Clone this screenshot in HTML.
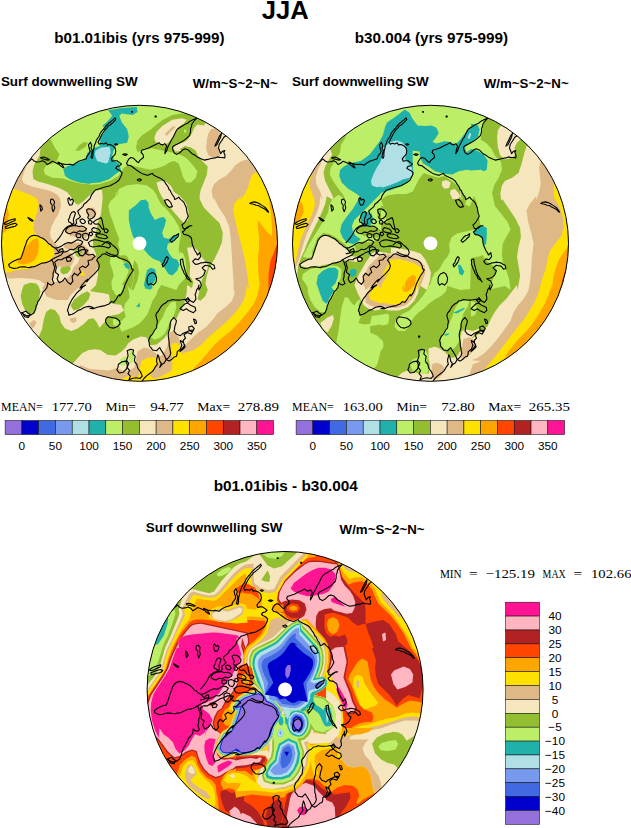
<!DOCTYPE html><html><head><meta charset="utf-8"><title>JJA</title><style>html,body{margin:0;padding:0;background:#fff}svg{display:block}</style></head><body>
<svg width="631" height="828" viewBox="0 0 631 828">
<defs>
<clipPath id="c1"><circle cx="139.5" cy="243.3" r="138.0"/></clipPath>
<clipPath id="c2"><circle cx="430.5" cy="243.3" r="138.0"/></clipPath>
<clipPath id="c3"><circle cx="285.1" cy="689.5" r="138.0"/></clipPath>
<g id="coast" fill="none" stroke="#000" stroke-width="1.1" stroke-linejoin="round" stroke-linecap="round">
<path d="M-112.8 -79.4 -111.4 -81.3 -109.6 -82.6 -107.7 -84.5 -105.8 -82.6 -103.3 -81.3 -100.1 -81.6 -96.9 -82.6 -94.4 -81.3 -92.5 -78.8 -89.9 -80.1 -87.4 -82.0 -84.2 -80.7 -81.7 -79.4 -79.8 -80.1 -77.3 -79.4 -73.5 -78.8 -69.7 -79.1 -65.9 -78.2 -64.0 -80.1 -60.8 -82.0 -57.0 -83.2 -53.2 -84.5 -52.6 -87.0 -50.5 -89.6 -49.3 -92.1 -50.4 -95.3 -51.0 -98.4 -49.1 -101.0 -47.8 -97.8 -48.5 -95.3 -47.2 -92.7 -47.8 -89.6 -48.5 -85.8 -47.2 -85.1 -46.6 -87.3 -46.6 -89.6 -46.3 -92.5 -45.5 -95.3 -45.2 -97.9 -44.0 -100.3 -43.3 -102.7 -42.1 -104.8 -40.5 -106.8 -39.6 -109.2 -38.5 -111.2 -37.1 -113.0 -35.3 -114.8 -33.9 -116.8 -32.0 -118.8 -30.1 -120.6 -26.9 -123.2 -24.4 -125.4 -23.7 -123.8 -26.3 -120.9 -29.4 -118.3 -31.5 -116.9 -32.9 -114.9 -34.5 -113.4 -35.8 -111.5 -37.2 -109.5 -38.3 -107.3 -40.2 -103.5 -41.5 -101.0 -40.2 -99.1 -38.3 -100.1 -35.8 -99.3 -33.3 -100.6 -32.0 -98.4 -29.4 -98.8 -26.3 -97.2 -24.4 -95.3 -23.7 -92.1 -24.4 -88.9 -26.3 -87.0 -28.2 -84.5 -27.3 -82.0 -25.0 -82.6 -22.5 -82.6 -19.9 -80.7 -18.0 -79.4 -19.9 -77.5 -22.5 -76.9 -23.7 -75.0 -21.8 -73.7 -19.3 -72.5 -17.4 -70.6 -18.0 -68.0 -19.3 -65.5 -20.6 -63.0 -23.1 -61.1 -26.3 -59.2 -29.4 -57.5 -33.3 -56.6 -35.5 -56.1 -37.7 -55.4 -41.5 -54.1 -44.0 -53.3M-98.8 -85.8 -95.6 -86.2 -92.5 -85.1 -89.9 -83.6 -91.8 -83.2 -95.0 -84.1 -98.2 -84.8ZM-81.7 -81.3 -79.2 -80.3 -76.6 -77.5 -75.4 -75.3 -77.3 -76.3 -79.8 -78.2ZM-24.8 -99.1 -23.1 -99.7 -21.8 -98.8 -23.5 -98.2ZM-16.8 -88.9 -14.9 -89.6 -12.3 -88.9 -14.2 -87.9ZM-7.9 -131.8 -7.0 -131.8 -7.0 -131.0 -7.9 -131.0ZM15.8 -127.3 16.7 -127.3 16.7 -126.6 15.8 -126.6ZM15.6 -127.2 16.6 -127.2 16.6 -126.3 15.6 -126.3ZM-11.7 -82.6 -10.4 -84.5 -8.5 -85.8 -6.0 -85.1 -4.1 -83.2 -2.2 -81.3 -0.9 -80.7 0.1 -82.6 2.2 -84.5 4.1 -85.8 3.5 -88.9 1.6 -90.8 2.2 -93.0 5.4 -94.0 9.2 -95.3 13.0 -97.2 16.8 -99.1 19.5 -100.6 20.9 -99.1 23.4 -98.4 25.3 -99.7 27.2 -97.2 26.0 -94.0 25.6 -91.8 25.3 -89.6 27.2 -92.7 28.5 -96.5 30.4 -100.3 32.3 -104.1 33.8 -106.2 34.8 -108.6 36.7 -112.4 38.0 -114.3 39.9 -115.6 43.1 -117.5 46.3 -119.4 48.4 -120.2 50.1 -121.9 53.9 -123.8 57.4 -125.1 55.5 -123.3 53.9 -121.3 52.4 -119.3 52.0 -116.8 51.0 -114.4 51.1 -111.8 50.1 -108.0 47.5 -105.4 44.4 -102.9 41.2 -101.0 38.0 -99.3 34.8 -97.8 32.9 -95.9 33.6 -92.7 34.8 -90.2 37.4 -88.9 40.6 -90.8 43.1 -93.4 45.6 -94.6 48.8 -93.4 50.7 -91.5 52.6 -89.6 55.1 -88.3 57.7 -86.4 61.5 -84.5 64.6 -83.2 68.4 -83.9 70.6 -84.6 72.9 -85.1 75.5 -85.4 77.9 -86.4 80.1 -85.9 82.4 -85.8 85.3 -85.4 85.5 -88.3 84.3 -90.8 85.3 -92.7 83.0 -92.1 81.1 -89.6 80.5 -91.5 79.0 -95.3 79.8 -99.1 81.1 -101.0 82.4 -102.9 84.3 -106.1 86.2 -107.3M75.4 -97.2 76.7 -100.3 78.6 -104.1 80.5 -108.0 82.0 -109.9 81.1 -106.1 79.2 -102.2 77.3 -98.4ZM-11.7 -82.6 -13.0 -80.1 -11.7 -78.2 -8.5 -77.5 -6.0 -75.6 -3.5 -73.7 -0.9 -71.8 2.2 -69.9 5.4 -68.7 8.6 -68.0 11.1 -69.3 13.0 -69.9 14.3 -68.0 16.8 -66.8 19.5 -65.5 22.2 -64.2 24.7 -62.3 26.6 -59.2 28.5 -56.6 29.8 -53.3 30.5 -53.3 31.6 -50.9 32.9 -48.5 34.5 -46.4 35.3 -43.8 37.3 -44.8 39.2 -46.2 41.0 -43.9 43.2 -42.2 44.7 -40.4 45.6 -38.2 46.8 -35.6 47.2 -32.7 47.7 -29.9 48.8 -27.2 47.4 -24.3 45.6 -21.6 44.3 -19.8 42.4 -18.4 44.0 -14.5 48.0 -15.3 50.5 -17.6 52.4 -17.6 49.9 -17.3 47.6 -16.1 46.2 -14.4 44.7 -12.6 42.9 -11.3 44.5 -8.9 48.4 -8.1 51.6 -5.8 52.3 -3.1 52.5 -0.5 53.2 2.2 54.4 4.9 55.6 7.7 57.0 9.5 57.9 11.7 60.3 9.3 61.1 13.3 58.7 16.4 55.6 15.6 53.2 18.0 54.6 19.8 56.3 21.2 58.8 20.6 61.1 19.6 63.5 19.4 65.9 18.8 68.2 19.2 70.6 19.6 72.5 20.9 74.6 22.0 75.4 25.1 73.0 25.9 70.6 22.8 68.2 22.4 65.9 22.0 62.7 24.4 64.0 26.2 65.9 27.5 64.3 31.5 62.5 33.3 60.3 34.7 56.3 35.4 58.2 36.8 60.3 37.8 61.9 41.8 60.8 44.3 59.5 46.7 59.2 44.2 59.5 41.7 58.8 44.3 57.1 46.5 56.6 48.9 55.6 51.2 56.2 53.5 56.3 56.0 54.0 59.1 50.8 57.5 48.4 54.4 46.0 56.8 48.4 59.9 51.6 62.3 55.6 63.9 56.3 67.1 54.0 69.4 50.0 67.8 46.8 65.5 43.7 67.1 40.5 65.5 42.0 63.8 43.6 62.3 45.2 60.7 47.5 60.0 49.0 58.4 50.5 56.8 48.0 56.4 45.6 56.0 42.4 56.5 39.2 56.8 36.1 56.7 32.9 56.3 30.6 57.3 28.2 57.5 26.5 59.5 24.2 60.7 21.8 62.8 20.2 65.5 19.0 67.7 17.3 69.5 16.3 71.8 17.1 75.0 17.9 78.2 17.3 81.3 17.1 84.5 15.2 86.7 13.9 89.2 12.5 91.4 10.7 93.2 9.1 97.2 9.8 99.9 9.9 102.7 11.6 104.6 13.1 106.7 17.1 107.5 18.6 105.9 20.2 104.3 21.3 106.3 22.6 108.3 23.8 110.3 25.0 112.2 26.6 116.2 28.9 114.6 30.5 112.4 31.3 109.8 30.7 107.5 30.5 105.1 29.7 102.8 29.7 100.3 29.5 97.2 28.9 94.0 28.7 90.8 29.4 87.7 30.5 84.6 30.5 81.3 31.0 78.8 32.1 76.6 34.5 74.2 36.9 77.4 36.4 80.2 35.3 82.9 35.1 85.3 34.5 87.7 36.9 90.8 40.8 92.4 43.0 90.5 45.6 89.2 48.1 88.1 50.5 86.9 54.0 86.9 52.8 88.9 51.6 90.8 47.6 89.2 44.5 91.6 46.0 94.8 43.7 97.2 44.0 99.7 45.3 101.9 42.9 105.1 40.5 108.3 42.3 106.8 44.1 105.3 45.6 103.5 44.0 99.5 40.8 97.2 41.4 99.6 42.4 101.9 40.8 105.9 37.7 108.3 37.6 110.7 36.9 113.0 34.7 113.8 32.9 115.4 29.7 117.8 26.6 116.2 25.0 119.4 22.6 120.9 20.2 124.1 21.8 120.1 20.2 117.8 19.4 113.8 18.3 111.4 17.8 113.8 17.1 116.2 17.2 118.6 17.9 120.9 15.5 124.1 14.4 126.1 13.1 128.1 9.9 130.4 6.8 132.8 4.4 135.2 2.8 137.6M-2.2 -63.8 0.3 -64.6 1.9 -63.6 0.3 -62.3 -1.6 -62.6ZM25.0 -43.0 28.2 -43.8 29.9 -42.3 31.3 -40.6 32.9 -36.7 29.7 -35.9 28.0 -37.3 26.6 -39.0ZM30.5 -2.6 32.9 -5.8 34.6 -7.4 36.9 -8.1 39.2 -9.7 38.5 -6.5 36.7 -5.1 35.3 -3.4 32.1 -1.0ZM22.6 21.2 24.3 19.5 25.0 17.2 26.0 15.1 27.4 13.3 28.9 14.8 27.4 18.8 25.0 22.0 23.4 23.6ZM7.6 35.4 8.3 32.9 9.9 30.7 13.1 29.1 15.5 30.7 17.1 34.7 16.8 37.1 16.3 39.4 13.9 41.8 11.5 40.2 9.1 41.8 7.6 39.4ZM40.8 16.4 43.2 15.6 43.5 18.4 44.0 21.2 44.9 24.3 45.6 27.5 46.7 30.3 48.0 33.1 49.5 34.9 50.5 37.0 51.6 38.6 49.9 36.7 47.6 35.4 46.4 32.5 44.5 29.9 43.8 27.8 42.7 25.7 42.1 23.6 41.1 21.3 41.1 18.8ZM110.2 -39.8 112.4 -41.1 115.0 -41.4 117.4 -40.7 119.7 -39.8 122.1 -38.2 124.5 -36.7 126.3 -35.3 127.7 -33.5 129.2 -31.1 127.7 -31.9 126.0 -33.9 123.7 -35.1 121.2 -36.2 118.9 -37.8 116.5 -38.1 114.2 -39.0ZM54.0 75.8 56.3 76.6 57.1 79.7 55.6 80.5ZM49.2 83.7 52.4 82.6 54.8 85.3 52.4 88.5 49.7 87.3ZM-33.7 75.8 -31.3 73.4 -27.3 74.2 -23.4 75.0 -20.2 77.4 -19.4 80.5 -21.8 83.2 -25.7 84.8 -29.7 84.2 -32.4 81.3 -34.0 78.5ZM-11.9 92.7 -10.8 92.7 -10.8 93.8 -11.9 93.8ZM-12.3 107.5 -9.1 105.9 -5.9 106.7 -6.7 110.6 -4.3 113.0 -5.1 117.0 -4.4 119.2 -2.7 120.9 -2.2 123.4 -1.2 125.7 1.2 128.9 2.8 132.8 0.4 135.2 -3.5 134.4 -7.5 135.2 -10.7 136.8 -9.1 132.8 -11.5 130.4 -9.9 127.3 -12.3 124.1 -10.7 120.1 -13.0 117.0 -11.5 113.0 -11.7 110.2ZM-21.0 120.9 -17.8 118.6 -13.8 117.8 -12.3 120.9 -12.3 123.4 -13.0 125.7 -14.6 127.3 -16.2 128.9 -20.2 129.7 -22.6 126.5 -21.5 123.8ZM-59.5 44.8 -57.3 41.5 -54.5 38.2 -51.7 36.0 -52.8 38.7 -50.1 35.4 -47.3 32.6 -45.6 31.0 -44.0 29.3 -41.2 26.0 -40.1 22.6 -41.2 19.3 -42.9 17.1 -41.7 14.9 -39.0 13.2 -37.3 11.0 -34.5 10.4 -31.8 11.8 -29.0 12.9 -25.7 13.5 -22.9 12.7 -21.2 14.3 -19.0 15.1 -16.2 16.0 -12.9 17.1 -10.1 19.3 -8.5 22.1 -7.9 25.4 -6.2 26.5 -7.4 28.7 -9.0 31.0 -10.7 33.7 -12.4 37.1 -14.0 40.4 -15.1 43.7 -16.2 47.0 -17.9 50.4 -19.6 52.7 -20.2 51.2 -21.8 53.5 -23.4 56.0 -25.7 59.1 -28.1 58.3 -30.5 60.7 -34.4 62.3 -38.4 63.1 -42.4 63.9 -46.3 65.5 -49.5 65.2 -46.0 64.7 -48.2 63.4 -50.8 63.1 -54.7 63.9 -56.7 65.0 -58.7 66.3 -61.3 67.0 -63.4 68.6 -65.4 69.9 -67.4 71.0 -70.6 71.8 -71.1 69.3 -72.1 67.1 -71.2 64.7 -70.6 62.3 -69.4 59.9 -68.2 57.5 -66.8 55.0 -65.0 52.8 -63.3 50.2 -61.1 48.0 -58.8 46.3 -57.1 44.1 -53.9 41.7 -56.8 43.2ZM-33.4 8.8 -31.2 9.9 -28.4 11.3 -25.1 12.1 -22.3 11.8 -21.2 9.3 -22.3 6.0 -25.1 3.2 -27.3 1.6 -29.5 -0.7 -31.8 -1.8 -34.5 -0.7 -37.3 1.6M-92.0 41.7 -92.7 44.3 -94.3 46.5 -96.4 48.5 -97.5 51.2 -98.8 53.6 -99.9 56.0 -101.5 58.1 -102.3 60.7 -103.4 63.0 -103.8 65.5 -105.4 69.4 -108.6 71.8 -112.6 72.6 -115.7 71.0 -118.1 69.4M-117.3 69.4 -113.4 67.8 -111.7 69.8 -109.4 71.0 -111.0 74.2 -114.9 73.4 -116.1 71.4ZM-130.8 21.2 -127.6 18.8 -124.4 17.2 -121.8 16.0 -118.9 15.6 -117.3 11.7 -116.6 9.3 -115.7 6.9 -115.1 4.5 -114.1 2.2 -113.3 -0.2 -112.6 -2.6 -110.2 -5.8 -108.0 -7.4 -105.4 -8.1 -101.5 -7.3 -99.2 -5.9 -96.7 -5.0 -94.6 -3.5 -92.7 -1.8 -91.1 0.2 -88.8 1.4 -87.1 3.3 -84.8 4.5 -82.7 6.4 -80.9 8.5 -79.3 6.1 -76.9 5.3 -76.1 8.5 -78.5 11.7 -81.7 13.3 -84.8 14.8 -88.0 16.4 -86.4 18.8 -86.0 21.3 -84.8 23.6 -85.3 26.8 -86.4 29.9 -86.4 33.1 -87.2 36.2 -85.6 40.2 -88.0 41.8 -90.2 41.0 -92.0 39.4 -92.0 41.7M-88.0 16.4 -89.8 18.0 -92.0 18.8 -95.1 19.6 -97.6 19.8 -99.9 20.9 -103.0 22.5 -105.3 23.5 -107.8 23.6 -110.1 24.3 -112.6 24.0 -114.9 23.6 -117.3 23.6 -119.8 23.7 -122.1 24.7 -126.0 25.1 -130.0 23.6 -130.8 21.2M-84.8 18.8 -81.7 16.4 -77.7 16.4 -75.9 15.0 -73.7 14.1 -71.3 13.0 -69.0 11.7 -66.9 10.6 -65.0 9.3 -62.6 8.5 -60.3 7.7 -58.0 6.4 -55.5 6.1 -51.5 6.9 -53.9 10.1 -50.8 11.7 -46.8 10.9 -44.4 13.3 -46.2 14.6 -47.6 16.4 -51.5 17.2 -50.8 21.2 -52.3 22.8 -53.9 24.4 -57.1 22.8 -60.3 25.1 -58.7 29.1 -60.6 30.4 -61.8 32.3 -65.0 29.9 -67.4 33.1 -67.1 35.5 -66.6 37.8 -69.0 41.0 -72.1 38.6 -73.2 36.5 -74.5 34.7 -76.9 37.8 -80.1 39.4 -81.5 37.6 -82.4 35.4 -80.9 31.5 -84.0 29.1 -83.7 26.7 -83.2 24.4 -84.0 21.6ZM-71.2 -23.4 -70.0 -25.5 -69.5 -27.9 -67.9 -30.7 -65.6 -31.8 -64.0 -30.1 -65.1 -26.8 -66.2 -23.4 -65.6 -20.1 -67.3 -19.0 -69.0 -20.7 -70.6 -21.2ZM-52.9 -33.4 -51.2 -34.5 -47.9 -34.0 -45.7 -32.3 -44.0 -29.5 -45.1 -26.8 -47.3 -25.1 -50.1 -24.0 -51.8 -25.7 -50.7 -28.4 -52.3 -30.7ZM-73.4 -14.0 -71.2 -16.2 -67.9 -17.3 -64.0 -17.9 -60.6 -16.8 -57.9 -17.3 -55.1 -16.2 -52.9 -14.6 -54.0 -12.9 -56.8 -11.8 -60.1 -12.4 -62.9 -10.7 -66.2 -11.2 -69.0 -9.6 -71.7 -10.1 -74.0 -11.8ZM-46.2 -21.2 -43.5 -23.4 -40.7 -24.6 -38.5 -25.7 -37.4 -23.4 -36.8 -19.6 -35.7 -15.7 -36.2 -14.0 -37.9 -15.1 -39.6 -17.9 -41.2 -19.6 -43.5 -19.0 -45.1 -19.6ZM-47.9 -14.0 -46.2 -15.7 -43.5 -15.1 -40.7 -14.0 -39.0 -11.8 -40.1 -10.1 -42.9 -10.7 -45.7 -11.2 -47.3 -12.4ZM-43.5 -9.0 -40.1 -9.6 -36.8 -9.0 -33.5 -7.9 -31.8 -5.7 -34.0 -4.6 -37.4 -5.1 -40.7 -5.7 -42.9 -6.8ZM-56.8 -9.0 -54.0 -10.1 -51.2 -9.0 -50.7 -5.7 -52.3 -2.9 -55.1 -3.5 -56.8 -5.7ZM-51.2 -0.7 -47.9 -2.9 -44.6 -3.5 -40.7 -2.9 -36.8 -1.8 -33.5 -0.7 -30.1 0.4 -29.0 3.2 -31.2 4.8 -34.0 3.7 -36.8 3.2 -40.1 2.6 -43.5 3.2 -46.8 3.7 -49.6 2.6ZM-61.2 4.8 -58.4 3.2 -55.7 4.3 -54.0 7.1 -54.5 10.4 -56.8 12.6 -59.5 12.1 -61.2 9.3 -60.9 7.1ZM-73.4 14.8 -70.1 13.7 -67.9 15.4 -69.0 17.6 -72.3 18.2ZM-59.5 -23.4 -57.3 -24.6 -55.1 -23.4 -54.0 -21.2 -55.7 -19.6 -57.9 -20.1 -59.2 -21.6ZM-51.2 -22.3 -49.0 -23.1 -47.3 -21.2 -48.4 -19.0 -50.7 -19.6ZM-63.4 -9.0 -60.6 -9.8 -58.4 -8.5 -59.0 -6.0 -61.8 -5.4 -63.4 -7.1ZM-35.7 -14.0 -33.2 -14.6 -31.2 -12.7 -32.4 -10.7 -34.6 -10.9ZM-50.1 -10.7 -47.9 -11.2 -46.8 -9.0 -48.4 -7.4 -50.3 -8.5ZM-44.0 -53.3 -45.7 -51.4 -47.3 -49.4 -48.6 -47.2 -49.4 -44.7 -51.2 -42.9 -53.3 -40.8 -55.7 -39.0 -56.6 -36.7 -58.4 -35.1 -61.8 -32.3 -60.6 -29.0 -59.0 -26.8 -60.6 -25.1 -63.4 -23.4 -62.9 -20.1 -64.5 -18.2 -67.9 -18.2 -71.2 -17.1 -74.0 -15.1 -76.2 -12.4 -77.8 -9.0 -80.1 -5.7 -82.3 -2.9 -84.5 -0.7M-84.5 4.8 -81.2 4.3 -77.8 2.6 -74.5 0.4 -71.2 -0.7 -67.9 -0.2 -65.1 -1.8 -62.3 -3.5 -59.0 -2.9 -56.8 -1.3 -58.4 1.5 -61.2 2.6 -63.4 4.8 -66.2 6.5 -69.0 6.0 -71.7 7.6 -74.5 8.7 -77.8 8.2 -81.2 9.8 -84.5 10.4M-135.7 -19.6 -133.2 -21.5 -130.0 -23.0 -126.8 -24.0 -124.3 -24.6 -124.5 -22.7 -127.5 -21.5 -130.6 -20.0 -133.8 -18.7ZM-134.4 -16.4 -131.3 -17.9 -127.5 -19.2 -124.3 -20.0 -122.4 -18.9 -124.3 -17.0 -128.1 -16.2 -131.9 -15.1 -133.8 -14.9ZM-111.6 -25.9 -109.1 -24.6 -106.3 -22.7 -107.2 -22.1 -109.7 -23.4ZM-99.6 -38.6 -97.7 -36.7 -97.0 -34.1 -98.7 -32.2 -99.2 -35.4ZM-88.8 -43.7 -86.9 -44.3 -85.0 -41.8 -85.6 -38.6 -84.7 -35.4 -86.3 -31.6 -87.5 -34.8 -87.3 -38.0 -89.1 -40.5ZM-71.7 -44.3 -70.4 -45.6 -69.2 -43.0 -67.3 -44.3 -66.0 -42.4 -67.5 -38.6 -69.8 -38.0 -71.1 -40.5Z"/>
</g>
</defs>
<rect width="631" height="828" fill="#fff"/>
<g clip-path="url(#c1)">
<rect x="0" y="100" width="290" height="290" fill="#F5E6BE"/>
<path fill="#DEB887" d="M247.4 159.4 L241.8 161.0 L235.5 165.0 L230.7 171.3 L226.0 176.1 L219.6 179.2 L214.1 184.0 L211.7 190.3 L212.5 196.7 L214.1 200.0 L214.1 197.9 L218.8 207.4 L225.2 216.9 L229.1 226.5 L230.7 237.5 L231.5 250.2 L232.3 262.9 L233.1 275.6 L233.9 285.1 L233.1 285.0 L234.7 293.7 L231.5 301.6 L224.4 308.0 L217.2 313.5 L212.5 319.9 L206.1 327.0 L198.2 332.5 L190.3 339.7 L184.0 346.0 L181.1 348.4 L178.7 337.3 L174.0 331.0 L169.2 332.5 L168.4 338.9 L167.7 345.2 L164.5 351.6 L161.3 356.3 L157.4 354.7 L153.4 351.6 L148.6 348.4 L143.9 347.6 L137.5 351.6 L136.0 359.5 L134.4 367.4 L126.5 371.4 L116.1 368.2 L109.0 370.6 L99.5 369.8 L90.0 369.0 L80.0 365.0 L60.0 400.0 L300.0 420.0 L300.0 200.0Z"/>
<path fill="#DEB887" d="M210.9 129.3 L216.5 127.7 L220.4 130.9 L218.8 138.0 L217.2 146.0 L220.4 152.3 L219.6 156.3 L213.3 157.8 L208.5 155.5 L206.1 149.1 L206.9 139.6 L208.5 133.3Z"/>
<path fill="#FFE100" d="M256.1 172.1 L252.1 174.5 L249.7 180.8 L248.1 187.2 L244.2 195.1 L240.2 200.0 L241.0 196.3 L234.7 202.7 L233.1 209.0 L234.7 218.5 L237.8 231.2 L241.0 243.9 L244.2 256.6 L246.6 269.2 L248.1 280.3 L248.9 290.0 L246.6 285.0 L245.8 294.5 L242.6 302.4 L237.1 310.4 L230.7 317.5 L224.4 323.8 L216.5 330.2 L208.5 337.3 L200.6 345.2 L192.7 350.8 L184.8 352.4 L180.0 354.7 L190.0 353.1 L181.9 354.7 L181.1 348.4 L177.2 342.8 L172.4 343.6 L170.8 350.0 L171.6 357.9 L172.4 364.2 L171.6 370.6 L166.1 373.7 L159.7 376.9 L153.4 378.5 L150.2 375.3 L153.4 370.6 L156.6 365.8 L159.7 360.3 L155.0 357.1 L147.1 357.9 L141.5 361.1 L139.9 367.4 L139.1 373.7 L137.5 376.9 L128.0 376.1 L122.5 378.5 L113.8 383.3 L160.0 400.0 L300.0 400.0 L300.0 150.0Z"/>
<path fill="#FFA500" d="M268.7 197.9 L271.1 213.8 L271.9 226.5 L271.9 236.0 L266.4 231.2 L261.6 224.9 L258.4 220.1 L257.7 226.5 L259.2 237.5 L258.9 250.2 L257.7 258.1 L258.4 272.4 L260.0 290.0 L259.2 285.0 L257.7 294.5 L253.7 304.0 L246.6 313.5 L238.6 323.0 L230.7 331.0 L222.8 337.3 L214.1 345.2 L206.1 354.7 L199.0 362.7 L194.3 367.4 L189.5 373.7 L200.0 390.0 L300.0 380.0 L300.0 180.0Z"/>
<path fill="#FF4500" d="M277.0 243.9 L273.5 253.4 L270.3 261.3 L268.7 272.4 L268.4 281.9 L268.7 290.0 L268.7 285.0 L268.0 292.9 L264.8 302.4 L260.8 311.9 L256.1 323.0 L290.0 330.0 L290.0 240.0Z"/>
<path fill="#DEB887" d="M26.6 165.8 L23.8 172.9 L21.9 179.2 L23.8 183.2 L31.7 186.4 L41.2 188.7 L50.7 191.1 L57.8 195.1 L61.0 200.0 L54.7 194.0 L60.2 199.5 L61.0 205.8 L58.6 213.8 L54.7 220.1 L51.5 226.5 L49.9 232.8 L50.7 237.5 L53.9 242.3 L58.6 247.1 L66.6 251.0 L71.3 253.4 L74.5 258.1 L72.9 262.9 L69.7 267.7 L65.0 269.2 L60.2 266.1 L55.5 269.2 L53.9 275.6 L50.7 281.9 L46.0 285.1 L39.6 280.3 L31.7 278.7 L19.0 278.0 L9.5 278.7 L3.2 275.6 L-5.0 280.0 L-5.0 160.0Z"/>
<path fill="#FFE100" d="M13.5 188.7 L20.6 191.1 L28.5 194.3 L35.7 197.5 L37.2 200.0 L23.8 194.0 L36.5 197.9 L38.8 204.3 L37.2 212.2 L34.1 221.7 L33.3 229.6 L36.5 235.2 L41.2 237.5 L46.0 240.7 L49.1 244.7 L53.1 248.6 L54.7 253.4 L52.3 258.1 L47.5 262.1 L41.2 264.5 L34.9 266.1 L30.1 268.4 L23.8 269.2 L15.8 270.0 L9.5 272.4 L4.0 272.4 L-5.0 275.0 L-5.0 180.0Z"/>
<path fill="#FFA500" d="M6.7 205.8 L9.0 213.8 L7.6 223.3 L6.0 231.2 L1.6 233.6 L0.8 221.7 L4.0 209.0Z"/>
<path fill="#FFA500" d="M27.7 244.7 L32.5 239.9 L38.0 238.3 L38.8 245.5 L38.0 253.4 L34.9 259.7 L30.1 262.9 L23.8 264.5 L19.0 263.7 L16.6 261.3 L20.6 258.1 L23.0 252.6 L25.4 247.8Z"/>
<path fill="#DEB887" d="M85.6 209.0 L93.5 207.4 L96.7 212.2 L93.5 216.9 L88.7 217.7 L86.4 213.8Z"/>
<path fill="#DEB887" d="M65.8 226.5 L71.3 224.1 L79.2 225.7 L85.6 228.8 L88.7 233.6 L86.4 237.5 L80.8 239.1 L76.1 236.8 L69.7 236.0 L65.8 232.0Z"/>
<path fill="#DEB887" d="M64.2 243.9 L69.7 242.3 L76.1 243.1 L82.4 244.7 L87.2 247.8 L85.6 250.2 L79.2 249.4 L72.9 251.0 L68.1 249.4 L64.2 247.8Z"/>
<path fill="#DEB887" d="M65.5 244.4 L73.3 242.2 L82.2 243.3 L87.7 248.9 L89.9 253.9 L97.7 255.5 L99.9 260.0 L97.7 266.6 L94.4 273.3 L88.8 278.8 L84.4 284.4 L77.7 287.7 L72.2 292.1 L67.7 300.0 L56.6 300.0 L46.7 296.6 L42.2 287.7 L46.7 282.1 L55.5 282.1 L65.5 279.9 L71.1 274.4 L73.3 267.7 L77.7 263.3 L79.9 257.7 L77.7 252.2 L71.1 250.0Z"/>
<path fill="#FFE100" d="M82.7 270.5 L85.5 275.5 L79.9 275.5Z"/>
<path fill="#DEB887" d="M48.3 289.8 L52.3 285.0 L82.4 285.0 L76.1 289.8 L71.3 294.5 L66.6 298.5 L63.4 296.1 L60.2 291.3 L55.5 289.0 L50.7 291.3Z"/>
<path fill="#DEB887" d="M69.7 318.3 L76.1 317.5 L76.9 320.7 L73.7 323.0 L70.5 321.5Z"/>
<path fill="#DEB887" d="M29.3 323.0 L34.1 319.9 L36.5 322.2 L34.1 327.0 L31.7 328.6Z"/>
<path fill="#94BE32" d="M40.4 149.1 L39.6 155.5 L34.1 165.0 L32.5 171.3 L33.3 179.0 L38.0 181.6 L47.5 184.0 L59.0 188.0 L67.0 192.0 L71.5 197.5 L76.0 204.0 L78.4 204.7 L84.0 200.7 L90.3 194.4 L95.1 190.5 L100.0 190.0 L102.0 190.0 L102.7 198.0 L101.9 206.0 L101.0 214.0 L98.0 222.0 L96.0 232.0 L93.0 240.0 L93.0 247.0 L96.0 254.0 L97.5 262.0 L98.0 275.0 L96.0 285.0 L90.0 291.0 L94.8 292.1 L102.7 292.9 L109.0 294.5 L109.8 300.8 L109.0 302.4 L113.8 304.0 L120.9 304.8 L124.1 310.4 L118.5 314.3 L113.8 315.1 L106.6 316.7 L105.1 321.5 L99.5 327.8 L96.7 322.2 L93.5 318.3 L88.7 319.1 L84.0 323.8 L77.7 328.6 L71.3 331.0 L65.0 328.6 L61.0 323.0 L59.4 315.9 L55.5 310.4 L50.7 308.8 L46.0 311.9 L43.6 319.9 L42.0 329.4 L38.8 336.5 L30.0 345.0 L60.0 372.0 L72.9 363.4 L77.7 357.9 L82.4 353.1 L88.7 350.0 L95.1 349.2 L100.3 350.0 L107.4 354.7 L115.4 355.5 L121.7 351.6 L125.7 347.6 L128.0 343.6 L132.8 339.7 L140.7 336.5 L146.3 337.3 L148.6 341.3 L150.2 345.2 L156.6 344.4 L159.7 342.1 L164.5 338.1 L169.2 331.0 L171.6 324.6 L170.8 319.1 L174.0 316.7 L176.4 319.1 L178.7 313.5 L181.9 308.8 L185.1 300.8 L186.7 292.9 L187.0 285.0 L191.9 288.0 L193.5 281.9 L189.5 275.6 L190.3 266.1 L188.7 256.6 L187.1 247.8 L193.5 247.1 L198.2 251.0 L201.4 256.6 L205.4 261.3 L208.5 266.1 L206.1 272.4 L202.2 278.7 L200.6 285.1 L199.0 293.0 L197.4 299.3 L200.6 300.8 L205.4 296.1 L207.7 289.8 L205.4 283.5 L206.9 275.6 L209.3 267.7 L214.1 259.7 L218.0 251.8 L222.0 242.3 L222.8 232.8 L219.6 223.3 L211.7 215.4 L203.8 207.4 L199.8 199.5 L199.0 190.0 L199.0 200.0 L200.6 190.3 L203.8 182.4 L206.9 174.5 L207.7 166.6 L202.2 161.0 L198.2 156.3 L195.8 150.7 L191.1 147.5 L184.8 146.0 L180.0 149.1 L180.0 143.6 L183.2 142.8 L187.9 139.6 L191.9 133.3 L194.3 127.7 L197.4 124.6 L203.8 125.4 L206.1 122.2 L190.0 95.0 L100.0 95.0 L40.0 140.0Z"/>
<path fill="#94BE32" d="M22.2 289.8 L25.4 285.8 L31.7 285.0 L38.0 285.0 L40.4 291.3 L38.8 299.3 L36.5 307.2 L33.3 312.7 L29.3 314.3 L25.4 311.1 L22.2 304.0 L20.6 296.1Z"/>
<path fill="#94BE32" d="M70.5 305.6 L74.5 299.3 L80.8 294.5 L87.2 291.3 L90.3 293.7 L88.7 299.3 L84.0 304.8 L79.2 308.8 L73.7 310.4Z"/>
<path fill="#94BE32" d="M22.2 290.0 L23.8 285.1 L30.1 282.7 L36.5 283.5 L38.0 290.0Z"/>
<path fill="#94BE32" d="M60.5 267.7 L68.8 266.1 L71.1 268.8 L67.7 273.3 L63.3 274.4 L60.5 272.2Z"/>
<path fill="#94BE32" d="M73.8 249.4 L78.3 247.8 L82.2 249.4 L81.6 254.4 L78.8 257.7 L76.1 255.5Z"/>
<path fill="#F5E6BE" d="M154.2 138.0 L156.6 131.7 L162.9 125.4 L172.4 119.8 L181.9 118.2 L186.7 119.8 L183.5 123.8 L178.7 126.9 L176.4 131.7 L172.4 138.0 L169.2 142.0 L164.5 145.2 L159.7 143.6 L155.8 142.0Z"/>
<path fill="#DEB887" d="M164.5 134.1 L173.2 126.1 L175.6 126.9 L166.9 135.7Z"/>
<path fill="#F5E6BE" d="M172.4 147.5 L178.7 143.6 L190.0 142.8 L180.0 143.6 L180.0 149.1 L181.9 150.7 L175.6 151.5Z"/>
<path fill="#F5E6BE" d="M156.6 182.4 L161.0 181.0 L166.0 181.5 L171.0 186.0 L174.0 192.0 L180.0 196.0 L186.0 203.0 L188.5 212.0 L188.0 220.0 L184.0 223.0 L179.0 218.0 L173.0 211.0 L167.0 204.0 L162.0 197.0 L158.5 190.0Z"/>
<path fill="#BCEE68" d="M47.5 139.6 L50.7 139.6 L54.7 147.5 L59.4 153.9 L57.1 160.2 L52.3 163.4 L46.0 165.8 L43.6 169.7 L45.2 174.5 L52.3 177.7 L63.4 178.4 L69.7 180.8 L79.2 183.2 L91.9 184.8 L100.0 184.0 L99.5 184.0 L110.6 180.8 L118.5 176.1 L122.5 169.7 L124.1 167.4 L128.0 165.0 L136.0 166.6 L142.3 168.1 L150.2 169.7 L158.1 168.1 L164.5 165.8 L169.2 162.6 L174.0 161.0 L178.7 163.4 L181.0 170.0 L183.0 177.0 L186.3 182.4 L191.1 182.4 L195.8 177.7 L197.4 171.3 L192.7 165.0 L187.0 158.5 L182.0 155.5 L175.6 153.1 L166.1 151.5 L159.7 149.9 L151.8 148.3 L142.3 149.9 L137.5 152.3 L136.0 147.5 L137.5 140.4 L142.3 134.9 L150.2 130.1 L156.6 124.6 L162.9 119.8 L172.4 115.1 L180.3 113.5 L190.0 114.3 L190.0 90.0 L100.0 90.0 L50.0 130.0Z"/>
<path fill="#94BE32" d="M75.3 150.7 L79.2 145.2 L84.0 142.0 L88.0 142.8 L85.6 146.8 L79.2 150.7Z"/>
<path fill="#BCEE68" d="M113.8 200.0 L116.1 193.5 L119.3 188.7 L126.5 185.6 L137.5 184.0 L147.1 185.6 L153.4 190.3 L156.6 195.1 L158.1 200.0 L152.6 190.0 L156.6 196.3 L161.3 204.3 L167.7 210.6 L174.0 218.5 L178.7 226.5 L181.1 234.4 L179.5 242.3 L178.7 250.2 L181.1 258.1 L185.1 264.5 L186.7 272.4 L183.5 280.3 L178.7 285.1 L176.4 290.0 L161.3 285.0 L158.1 289.8 L156.6 294.5 L152.6 300.8 L150.2 307.2 L147.8 313.5 L143.9 319.1 L139.1 323.8 L133.6 327.0 L127.2 329.4 L121.7 331.8 L119.3 326.2 L120.9 321.5 L125.7 316.7 L124.1 310.4 L124.9 304.0 L129.6 297.7 L128.8 291.3 L127.2 285.0 L130.4 290.0 L132.8 281.9 L133.6 274.0 L132.0 267.7 L129.6 261.3 L127.2 256.6 L124.1 255.0 L120.9 255.8 L117.7 253.4 L120.1 250.2 L117.7 243.9 L119.3 239.1 L116.1 231.2 L113.0 221.7 L109.8 213.8 L108.2 205.8 L110.6 201.1 L117.7 194.8 L119.3 190.0Z"/>
<path fill="#94BE32" d="M134.4 259.7 L137.5 264.5 L139.1 272.4 L137.5 280.3 L133.6 290.0 L131.2 290.0 L133.1 281.9 L134.1 274.0 L132.5 267.7Z"/>
<path fill="#BCEE68" d="M110.6 256.6 L116.9 255.8 L121.7 259.7 L126.5 264.5 L128.8 270.8 L125.7 278.7 L121.7 285.1 L119.3 290.0 L112.2 290.0 L111.4 281.9 L113.8 275.6 L112.2 269.2 L109.8 262.9Z"/>
<path fill="#BCEE68" d="M112.2 285.0 L124.1 285.0 L121.7 291.3 L118.5 296.1 L115.4 294.5 L113.0 289.8Z"/>
<path fill="#BCEE68" d="M151.0 337.3 L153.4 331.0 L158.1 324.6 L162.9 316.7 L166.1 308.8 L170.8 302.4 L175.6 301.6 L176.4 307.2 L174.0 315.1 L170.0 321.5 L167.7 327.8 L164.5 334.1 L159.7 338.1 L154.2 339.7Z"/>
<path fill="#BCEE68" d="M113.0 319.1 L117.7 319.1 L119.3 323.0 L116.1 326.2 L113.0 324.6Z"/>
<path fill="#BCEE68" d="M120.1 359.5 L124.1 356.3 L127.2 357.1 L128.0 362.7 L124.1 365.8 L120.1 365.0Z"/>
<path fill="#BCEE68" d="M128.8 350.8 L132.8 350.0 L134.4 354.7 L133.6 361.1 L130.4 364.2 L128.8 359.5Z"/>
<path fill="#BCEE68" d="M180.0 251.8 L183.2 253.4 L185.5 259.7 L186.3 269.2 L184.8 278.7 L180.0 281.9Z"/>
<path fill="#BCEE68" d="M184.0 129.3 L186.3 130.1 L186.0 132.5 L184.0 132.5Z"/>
<path fill="#20B2AA" d="M63.4 169.7 L66.6 166.6 L74.5 163.4 L82.4 161.0 L86.4 157.1 L87.2 153.1 L93.5 148.3 L100.0 146.0 L100.3 137.2 L105.1 130.9 L102.7 125.4 L107.4 121.4 L112.2 115.8 L108.2 110.3 L121.7 107.9 L136.8 107.1 L137.5 111.9 L132.8 115.1 L121.7 113.5 L119.3 115.8 L121.7 122.2 L127.2 129.3 L128.8 136.5 L127.2 142.8 L116.9 144.4 L113.8 149.9 L112.2 155.5 L114.6 161.0 L119.3 163.4 L120.9 170.5 L116.1 173.7 L109.0 179.2 L99.5 182.4 L90.0 183.2 L90.3 184.0 L79.2 182.4 L69.7 179.2 L65.0 176.1Z"/>
<path fill="#B0E0E6" d="M95.5 150.7 L101.1 147.5 L109.8 146.8 L110.6 152.3 L108.2 162.6 L105.8 163.4 L97.1 161.0 L94.8 154.7Z"/>
<path fill="#20B2AA" d="M128.8 210.6 L136.0 205.1 L140.7 200.3 L145.5 199.5 L148.6 202.7 L148.6 207.4 L151.0 213.8 L155.0 220.1 L159.7 217.7 L163.7 216.9 L166.1 220.1 L164.5 226.5 L162.1 232.8 L163.7 237.5 L168.4 239.1 L174.0 235.2 L178.0 233.6 L176.4 237.5 L172.4 241.5 L167.7 243.9 L166.9 248.6 L169.2 253.4 L172.4 258.1 L177.2 259.7 L179.5 264.5 L177.2 270.8 L172.4 275.6 L168.4 274.0 L164.5 267.7 L159.7 261.3 L153.4 258.9 L148.6 255.0 L143.9 249.4 L136.0 242.3 L132.8 236.0 L130.4 228.0 L128.8 220.1Z"/>
<path fill="#20B2AA" d="M147.1 270.0 L151.0 267.7 L155.0 269.2 L156.6 275.6 L154.2 281.9 L150.2 286.7 L145.5 289.0 L143.9 285.1 L145.5 277.2Z"/>
<path fill="#20B2AA" d="M123.3 263.7 L127.2 262.9 L129.6 266.1 L128.8 269.2 L125.7 267.7Z"/>
<path fill="#20B2AA" d="M144.7 285.0 L151.8 285.0 L152.6 288.2 L149.4 289.8 L145.5 288.2Z"/>
<path fill="#20B2AA" d="M136.0 306.4 L139.9 302.4 L139.9 307.2Z"/>
<use href="#coast" x="139.5" y="243.3"/>
<circle cx="139.5" cy="243.3" r="6.9" fill="#fff"/>
</g>
<circle cx="139.5" cy="243.3" r="138.0" fill="none" stroke="#000" stroke-width="1"/>
<g clip-path="url(#c2)">
<rect x="290" y="100" width="290" height="290" fill="#94BE32"/>
<path fill="#F5E6BE" d="M330.6 149.9 L332.2 154.7 L328.2 161.0 L325.1 166.6 L323.5 172.9 L325.1 180.8 L329.0 188.7 L332.2 195.1 L333.8 200.0 L326.7 196.3 L325.1 204.3 L321.9 212.2 L318.3 220.1 L314.3 228.0 L310.3 236.0 L306.8 243.9 L304.5 250.2 L300.8 258.1 L298.1 266.1 L297.3 274.0 L298.1 281.9 L300.5 290.0 L300.0 300.0 L280.0 240.0 L290.0 150.0Z"/>
<path fill="#DEB887" d="M321.9 159.4 L321.1 163.4 L317.9 169.7 L315.6 177.7 L316.4 184.0 L320.3 191.9 L322.7 200.0 L320.3 196.3 L319.5 204.3 L317.1 212.2 L313.5 220.1 L309.5 228.0 L306.1 236.0 L303.4 243.9 L300.8 253.4 L298.9 259.7 L296.5 266.1 L294.2 269.2 L280.0 240.0 L290.0 150.0Z"/>
<path fill="#FFE100" d="M314.0 169.7 L310.8 177.7 L309.2 184.0 L310.8 190.3 L314.8 200.0 L313.2 196.3 L315.1 202.7 L313.5 210.6 L310.0 218.5 L306.1 226.5 L302.6 234.4 L299.7 242.3 L297.3 253.4 L295.4 262.9 L294.5 272.4 L280.0 260.0 L285.0 160.0Z"/>
<path fill="#FFA500" d="M298.9 198.7 L302.9 205.1 L303.7 212.2 L300.5 218.5 L295.8 222.5 L291.8 223.3 L294.2 205.8Z"/>
<path fill="#F5E6BE" d="M526.5 146.0 L524.1 153.9 L521.7 163.4 L518.5 172.9 L512.2 177.7 L505.1 180.8 L501.9 185.6 L500.3 193.5 L501.1 200.0 L502.7 199.5 L509.0 209.0 L515.4 218.5 L520.1 228.0 L520.9 237.5 L518.5 247.1 L517.0 256.6 L518.5 266.1 L520.1 275.6 L518.5 285.1 L517.0 290.0 L517.0 285.0 L512.2 291.3 L505.9 299.3 L499.5 305.6 L494.8 311.9 L490.8 319.1 L487.6 326.2 L482.1 331.0 L476.5 335.7 L471.0 338.9 L481.0 327.8 L472.9 331.0 L466.6 329.4 L461.8 331.0 L460.2 338.9 L461.8 348.4 L457.1 356.3 L452.3 357.9 L447.6 354.7 L444.4 351.6 L439.6 348.4 L434.9 346.8 L428.5 348.4 L428.5 357.9 L430.1 367.4 L428.5 373.7 L417.5 373.0 L409.5 371.4 L407.1 370.6 L401.6 373.0 L397.6 376.9 L430.0 400.0 L590.0 400.0 L590.0 180.0Z"/>
<path fill="#F5E6BE" d="M501.1 125.4 L497.9 130.1 L497.1 138.0 L497.9 147.5 L500.3 155.5 L505.1 159.4 L512.2 157.8 L515.4 153.9 L514.6 147.5 L517.0 142.8 L520.4 139.6 L510.6 130.1Z"/>
<path fill="#DEB887" d="M540.7 161.0 L539.1 168.1 L539.9 176.1 L540.7 184.0 L539.1 191.9 L536.0 200.0 L536.0 196.3 L529.6 204.3 L526.5 210.6 L528.1 221.7 L531.2 232.8 L533.6 243.9 L532.0 256.6 L531.2 269.2 L530.4 278.7 L528.8 290.0 L529.6 285.0 L528.1 291.3 L523.3 299.3 L517.8 305.6 L513.0 313.5 L510.6 320.7 L505.1 328.6 L498.7 337.3 L491.6 346.0 L484.5 353.1 L477.3 357.9 L471.0 360.3 L481.0 361.1 L472.9 364.2 L469.7 373.7 L466.6 377.7 L540.0 400.0 L590.0 380.0 L590.0 200.0Z"/>
<path fill="#DEB887" d="M431.7 364.2 L436.5 362.7 L441.2 364.2 L444.4 367.4 L442.8 373.7 L438.1 378.5 L433.3 380.1 L431.7 373.7Z"/>
<path fill="#DEB887" d="M463.4 338.9 L469.7 337.3 L474.5 340.5 L476.1 345.2 L472.9 351.6 L468.2 356.3 L463.4 359.5 L460.2 356.3 L461.8 348.4Z"/>
<path fill="#FFE100" d="M553.4 180.8 L553.4 188.7 L554.2 200.0 L555.0 197.9 L559.7 207.4 L562.9 216.9 L563.7 226.5 L561.3 236.0 L555.0 243.9 L550.2 250.2 L547.9 258.1 L545.5 269.2 L542.3 278.7 L539.1 290.0 L540.7 285.0 L538.4 292.9 L534.4 302.4 L529.6 310.4 L524.9 318.3 L518.5 326.2 L512.2 334.1 L505.1 343.6 L497.9 353.1 L491.6 361.1 L486.1 367.4 L480.5 373.7 L560.0 400.0 L590.0 380.0 L590.0 220.0Z"/>
<path fill="#FFA500" d="M569.3 242.3 L567.7 247.1 L562.9 253.4 L559.0 259.7 L555.8 267.7 L553.4 277.2 L551.8 290.0 L551.8 285.0 L548.7 294.5 L544.7 304.0 L539.1 313.5 L532.8 323.0 L526.5 331.0 L518.5 338.9 L512.2 346.8 L507.5 352.4 L504.3 359.5 L499.5 365.8 L570.0 390.0 L590.0 330.0Z"/>
<path fill="#FF4500" d="M568.0 262.9 L566.9 264.5 L564.5 272.4 L562.1 280.3 L560.5 290.0 L560.5 285.0 L559.0 292.9 L555.8 302.4 L550.2 315.1 L580.0 320.0Z"/>
<path fill="#F5E6BE" d="M381.0 245.5 L387.3 248.6 L396.8 247.8 L404.8 249.4 L412.7 251.0 L420.6 253.4 L425.4 259.7 L428.5 266.1 L430.9 272.4 L430.1 280.3 L427.0 290.0 L419.0 285.0 L418.2 292.9 L414.3 300.8 L407.9 307.2 L398.4 310.4 L388.9 310.4 L381.0 308.8 L391.0 308.0 L382.9 308.8 L375.0 310.4 L368.7 308.8 L363.9 305.6 L360.7 299.3 L357.6 292.9 L354.4 285.0 L354.4 285.1 L359.1 274.0 L365.5 262.9 L371.8 253.4 L382.9 248.6 L392.4 247.8Z"/>
<path fill="#DEB887" d="M381.0 256.6 L387.3 255.0 L395.3 254.2 L404.8 255.3 L412.7 257.4 L419.8 260.5 L424.6 266.1 L425.4 272.4 L423.0 279.5 L420.6 285.9 L419.0 290.0 L416.7 285.0 L415.9 292.1 L411.9 299.3 L406.4 304.8 L396.8 308.0 L387.3 307.2 L381.0 305.6 L391.0 305.6 L382.9 305.6 L376.6 307.2 L370.2 305.6 L365.5 302.4 L365.5 296.1 L368.7 289.8 L371.8 285.0 L365.5 290.0 L362.2 280.5 L368.5 266.2 L378.0 256.7 L387.5 253.5 L392.4 253.4Z"/>
<path fill="#FFE100" d="M381.0 278.7 L385.0 269.2 L390.7 259.7 L398.6 258.9 L406.5 261.0 L414.4 263.4 L420.8 267.3 L422.5 272.4 L420.6 278.7 L418.2 285.1 L416.7 290.0 L415.1 285.0 L414.3 291.3 L410.3 297.7 L404.8 302.4 L396.8 304.8 L388.9 304.0 L381.0 302.4 L391.0 302.4 L386.1 302.4 L379.7 303.2 L375.0 301.6 L370.2 299.3 L368.7 294.5 L373.4 288.2 L379.7 285.0 L379.7 290.0 L382.9 281.9 L387.7 275.6 L391.0 272.4Z"/>
<path fill="#FFA500" d="M404.8 283.5 L407.9 278.0 L412.7 274.8 L415.9 276.4 L415.1 283.5 L411.9 290.0 L412.7 285.0 L411.1 289.0 L407.1 292.1 L403.2 291.3 L402.4 287.4 L403.2 285.0 L404.8 290.0Z"/>
<path fill="#F5E6BE" d="M320.3 237.5 L325.1 235.2 L330.6 237.5 L336.2 240.7 L341.7 244.7 L346.5 248.6 L349.6 253.4 L352.8 256.6 L359.1 256.6 L362.3 259.7 L357.6 262.1 L351.2 261.3 L344.9 260.5 L338.5 261.3 L332.2 263.7 L325.9 264.5 L319.5 266.1 L313.2 266.9 L306.8 267.7 L301.3 266.1 L299.7 264.5 L304.5 260.5 L311.6 258.1 L314.0 253.4 L316.4 245.5 L317.9 240.7Z"/>
<path fill="#F5E6BE" d="M320.3 323.0 L327.5 317.5 L333.0 315.1 L333.8 319.1 L331.4 326.2 L327.5 332.5 L322.7 328.6Z"/>
<path fill="#F5E6BE" d="M442.0 181.6 L446.0 180.0 L450.7 182.4 L449.1 188.0 L444.4 188.7 L442.0 185.6Z"/>
<path fill="#F5E6BE" d="M450.7 190.3 L454.7 188.7 L458.7 193.5 L461.8 200.0 L460.2 190.0 L460.2 196.3 L457.1 199.5 L452.3 198.7 L449.9 193.2 L450.7 190.0 L449.9 195.1Z"/>
<path fill="#BCEE68" d="M345.7 137.2 L340.9 145.2 L340.1 152.3 L334.6 161.8 L330.6 168.1 L329.8 174.5 L333.0 180.8 L338.5 188.7 L343.3 195.1 L345.7 200.0 L338.5 194.8 L332.2 199.5 L329.0 205.8 L328.2 212.2 L325.1 218.5 L321.1 224.9 L317.1 231.2 L313.2 237.5 L309.2 243.9 L306.1 250.2 L308.4 253.4 L311.6 252.6 L314.8 244.7 L317.1 238.3 L323.5 232.8 L330.6 234.4 L337.0 238.3 L343.3 243.1 L348.1 247.8 L354.4 251.0 L360.7 247.1 L365.5 242.3 L373.4 242.3 L379.7 237.5 L386.1 231.2 L391.0 228.0 L381.0 199.5 L387.3 195.5 L396.8 194.0 L406.4 194.0 L412.7 191.6 L419.0 179.2 L423.8 172.9 L430.1 175.3 L438.0 177.7 L444.4 176.1 L449.1 179.2 L453.9 182.4 L460.2 188.7 L463.4 195.1 L466.6 200.0 L465.0 204.3 L471.3 207.4 L476.1 212.2 L479.3 218.5 L481.0 228.0 L474.5 229.6 L466.6 231.2 L457.1 233.6 L451.5 237.5 L449.1 243.9 L449.9 251.8 L447.6 256.6 L443.6 261.3 L441.2 266.1 L438.1 270.8 L434.9 272.4 L431.7 278.7 L430.1 285.1 L428.5 285.0 L427.0 289.8 L423.8 294.5 L419.0 300.8 L414.3 305.6 L409.5 310.4 L403.2 313.5 L398.4 316.7 L395.3 321.5 L394.5 327.0 L398.4 331.0 L404.8 331.0 L409.5 326.2 L411.1 321.5 L414.3 316.7 L419.0 311.9 L423.8 308.8 L428.5 304.0 L434.9 299.3 L441.2 296.1 L446.0 291.3 L447.6 285.0 L448.0 286.0 L460.0 290.0 L470.0 289.0 L476.0 285.0 L481.0 262.0 L488.4 290.0 L496.0 288.0 L505.0 286.0 L510.6 290.0 L509.0 278.7 L505.9 269.2 L502.7 261.3 L501.9 253.4 L502.7 243.9 L505.9 237.5 L510.6 229.6 L507.5 221.7 L501.1 213.8 L494.8 205.8 L493.2 197.9 L491.6 190.0 L492.4 191.9 L494.8 184.0 L498.7 177.7 L501.9 169.7 L501.1 161.8 L494.8 155.5 L491.6 149.1 L486.8 143.6 L480.5 139.6 L482.1 133.3 L482.9 125.4 L484.5 118.2 L500.0 90.0 L430.0 80.0 L350.0 100.0Z"/>
<path fill="#94BE32" d="M469.0 208.0 L474.0 196.0 L477.0 203.0 L478.0 214.0 L479.0 222.0 L481.0 229.0 L474.0 230.0 L470.0 222.0Z"/>
<path fill="#94BE32" d="M471.0 258.1 L478.9 256.6 L482.9 255.0 L485.3 259.7 L491.6 264.5 L496.4 269.2 L494.8 275.6 L491.6 281.9 L488.4 292.0 L470.0 292.0Z"/>
<path fill="#94BE32" d="M377.4 209.0 L386.1 208.2 L390.0 213.8 L387.7 220.1 L381.3 221.7 L377.4 216.9Z"/>
<path fill="#94BE32" d="M357.6 228.0 L365.5 225.7 L375.0 227.2 L382.9 231.2 L391.0 234.4 L391.0 242.3 L382.9 240.7 L376.6 237.5 L370.2 236.0 L363.9 236.0 L359.1 232.8Z"/>
<path fill="#94BE32" d="M354.4 245.5 L362.3 243.1 L373.4 244.7 L382.9 243.9 L391.0 245.5 L391.0 253.4 L379.7 251.8 L370.2 250.2 L362.3 251.0 L356.0 249.4Z"/>
<path fill="#94BE32" d="M381.0 205.8 L387.3 207.4 L393.7 213.8 L396.8 221.7 L400.0 231.2 L398.4 240.7 L390.5 243.9 L381.0 242.3Z"/>
<path fill="#BCEE68" d="M381.0 210.6 L385.8 211.4 L386.5 221.7 L381.0 221.7Z"/>
<path fill="#BCEE68" d="M302.9 274.0 L310.0 269.2 L319.5 266.9 L329.0 265.3 L337.0 266.1 L341.7 269.2 L340.9 277.2 L338.5 283.5 L336.2 290.0 L337.8 285.0 L336.2 290.5 L332.2 297.7 L328.2 305.6 L325.1 311.9 L320.3 311.9 L314.8 307.2 L310.0 299.3 L307.6 291.3 L308.4 285.0 L309.2 290.0 L305.3 283.5 L302.1 278.7Z"/>
<path fill="#BCEE68" d="M302.9 256.6 L307.6 258.1 L313.2 256.6 L311.6 252.6 L308.4 253.4 L306.1 250.2Z"/>
<path fill="#BCEE68" d="M344.9 296.9 L348.1 297.7 L351.2 302.4 L354.4 305.6 L357.6 300.8 L360.7 299.3 L358.4 305.6 L359.1 313.5 L360.7 316.7 L358.4 323.0 L363.9 324.6 L370.2 323.8 L371.8 315.9 L379.7 315.1 L386.1 314.3 L389.3 315.1 L388.5 323.0 L386.1 324.6 L379.7 324.6 L370.2 326.2 L370.2 332.5 L377.4 335.7 L382.1 340.5 L383.7 346.0 L380.5 351.6 L379.0 357.9 L377.4 364.2 L375.0 367.4 L370.2 369.0 L354.4 359.5 L336.2 342.8 L338.5 331.0 L340.1 318.3 L341.7 307.2Z"/>
<path fill="#BCEE68" d="M381.0 315.1 L387.3 313.5 L388.9 318.3 L387.3 324.6 L381.0 325.4Z"/>
<path fill="#BCEE68" d="M381.0 338.9 L383.4 342.1 L382.6 348.4 L381.0 350.0Z"/>
<path fill="#BCEE68" d="M441.2 335.7 L444.4 331.0 L449.1 324.6 L452.3 316.7 L454.7 308.8 L458.7 302.4 L465.0 300.1 L469.7 300.8 L467.4 307.2 L463.4 313.5 L461.8 319.9 L460.2 327.8 L459.4 335.7 L458.7 342.1 L455.5 346.8 L452.3 350.0 L449.1 348.4 L446.0 350.0 L442.0 346.8 L440.4 340.5Z"/>
<path fill="#BCEE68" d="M409.5 364.2 L412.7 359.5 L419.0 357.1 L420.6 351.6 L425.4 350.0 L427.8 354.7 L427.0 362.7 L428.5 369.0 L427.0 373.7 L422.2 373.7 L417.5 370.6 L412.7 370.6Z"/>
<path fill="#BCEE68" d="M471.0 300.8 L475.0 302.4 L477.3 308.8 L475.0 315.1 L471.0 316.7Z"/>
<path fill="#20B2AA" d="M387.7 120.6 L385.3 126.9 L382.9 134.9 L379.7 141.2 L375.0 147.5 L370.2 153.9 L365.5 157.8 L360.7 161.0 L352.8 162.6 L344.9 165.8 L340.1 169.7 L339.3 176.1 L341.7 182.4 L348.1 188.7 L356.0 193.5 L362.3 198.3 L365.5 200.0 L381.0 192.7 L390.5 190.3 L400.0 186.4 L406.4 182.4 L413.5 174.5 L412.7 163.4 L412.7 150.7 L419.8 151.5 L419.8 157.1 L423.0 163.4 L428.5 166.6 L434.9 171.3 L444.4 173.7 L452.3 174.5 L458.7 171.3 L466.6 169.7 L471.3 170.5 L481.0 169.7 L483.7 171.3 L486.8 169.7 L487.6 160.2 L483.7 154.7 L477.3 150.7 L471.0 149.1 L466.6 152.3 L465.0 147.5 L469.7 143.6 L476.1 139.6 L474.2 141.2 L478.1 136.5 L479.7 129.3 L477.3 124.6 L471.0 123.8 L471.3 126.9 L465.0 133.3 L460.2 139.6 L455.5 144.4 L450.7 142.0 L444.4 141.2 L436.5 143.6 L432.5 142.0 L435.7 138.0 L438.8 133.3 L436.5 127.7 L431.7 125.4 L425.4 126.1 L417.5 125.4 L412.7 119.0 L409.5 112.7 L404.8 109.5 L396.8 115.8 L387.3 122.2 L381.0 136.5Z"/>
<path fill="#B0E0E6" d="M391.0 134.1 L387.7 139.6 L384.5 146.0 L382.9 152.3 L382.1 157.1 L380.5 161.8 L376.6 168.1 L373.4 174.5 L371.0 180.8 L371.8 185.6 L376.6 187.2 L382.9 186.4 L381.0 188.0 L388.9 185.6 L396.8 182.4 L403.2 179.2 L409.5 177.7 L412.7 174.5 L411.9 168.1 L408.7 163.4 L404.8 158.6 L407.1 152.3 L405.6 146.0 L401.6 142.0 L396.8 140.4 L390.5 142.0 L385.8 146.0 L381.0 152.3Z"/>
<path fill="#B0E0E6" d="M467.4 138.0 L469.7 132.5 L471.3 134.1 L469.7 138.8Z"/>
<path fill="#20B2AA" d="M357.6 190.0 L360.7 194.8 L357.6 201.1 L352.8 209.0 L346.5 216.9 L341.7 224.1 L340.1 231.2 L342.5 237.5 L346.5 242.3 L352.8 243.9 L357.6 242.3 L360.7 239.1 L356.0 236.0 L352.8 231.2 L352.0 225.7 L354.4 220.1 L360.7 213.8 L367.1 207.4 L373.4 201.1 L379.7 194.8 L382.9 190.0Z"/>
<path fill="#20B2AA" d="M360.7 213.8 L365.5 211.4 L371.8 213.8 L373.4 220.1 L370.2 225.7 L363.9 227.2 L360.7 221.7Z"/>
<path fill="#20B2AA" d="M317.9 275.6 L322.7 270.8 L329.0 267.7 L335.4 267.7 L338.5 270.8 L337.8 277.2 L335.4 283.5 L331.4 287.5 L333.8 290.0 L334.6 289.8 L330.6 296.1 L326.7 304.0 L322.7 300.8 L320.3 294.5 L317.1 285.0 L316.4 283.5Z"/>
<path fill="#20B2AA" d="M349.6 270.8 L352.8 268.4 L356.8 270.0 L356.0 275.6 L352.0 277.2 L349.6 274.8Z"/>
<path fill="#20B2AA" d="M367.1 249.4 L369.4 250.2 L369.4 255.0 L367.9 254.2Z"/>
<path fill="#20B2AA" d="M473.4 232.0 L478.1 227.2 L482.9 225.7 L486.8 228.0 L486.8 236.0 L486.1 243.9 L483.7 245.5 L482.1 237.5 L478.9 235.2 L475.0 234.4Z"/>
<path fill="#20B2AA" d="M457.9 265.3 L460.2 264.5 L464.2 271.6 L462.6 275.6 L459.4 274.0Z"/>
<path fill="#20B2AA" d="M453.1 312.7 L463.4 308.0 L465.0 308.8 L457.1 313.5Z"/>
<path fill="#20B2AA" d="M444.4 334.1 L449.1 333.3 L448.4 334.9 L445.2 335.7Z"/>
<use href="#coast" x="430.5" y="243.3"/>
<circle cx="430.5" cy="243.3" r="6.9" fill="#fff"/>
</g>
<circle cx="430.5" cy="243.3" r="138.0" fill="none" stroke="#000" stroke-width="1"/>
<g clip-path="url(#c3)">
<rect x="140" y="545" width="290" height="290" fill="#FF4500"/>
<path fill="#B22222" fill-rule="evenodd" d="M215.3 728.3 213.9 723.6 215.4 717.7 218.3 711.8 222.4 709.1 227.1 700.5 233.5 692.6 238.3 684.5 243.0 675.0 246.3 660.5 244.4 652.0 242.4 645.8 242.8 643.6 244.5 648.8 245.4 649.3 246.4 649.0 249.1 643.7 249.1 638.8 247.7 633.3 246.7 632.3 201.4 622.4 196.3 622.9 192.3 624.0 189.2 626.1 183.7 632.9 177.2 642.8 171.6 654.6 167.0 667.6 163.6 674.1 149.8 694.9 147.1 702.8 146.7 706.8 147.7 713.3 149.8 723.4 153.5 735.8 157.7 739.9 167.3 752.8 173.7 758.3 174.5 758.6 180.4 757.0 186.2 752.9 192.0 750.8 195.7 752.0 199.5 763.3 203.5 769.9 208.5 774.9 215.1 778.3 216.1 778.4 221.2 776.6 227.5 772.7 233.7 769.6 236.5 767.3 245.8 766.5 253.7 764.9 260.1 763.3 260.9 762.7 263.3 758.8 263.4 757.9 263.0 757.1 260.2 756.1 259.2 756.2 256.4 757.6 250.1 756.8 242.2 757.6 236.2 759.1 235.0 758.4 230.2 757.6 224.5 758.4 221.2 757.7 218.6 754.4 217.8 748.7 219.4 742.7 221.6 736.6 222.7 735.3 223.0 734.3 222.4 733.4ZM340.3 793.8 327.9 791.4 321.6 788.2 315.2 781.9 305.7 778.7 296.2 781.9 288.3 791.4 285.1 804.1 281.0 828.9 295.4 828.6 308.9 826.9 322.3 823.9 338.1 818.5 341.8 812.0 346.6 805.7 350.6 797.7 349.8 792.2ZM262.9 819.9 258.2 812.0 251.8 805.7 243.9 800.9 244.3 794.6 237.9 791.4 231.6 793.0 225.2 789.8 220.5 791.4 220.5 796.1 222.1 802.5 225.2 810.4 230.0 813.6 231.7 818.4 238.1 820.8 247.9 823.9 257.9 826.3 264.8 827.5ZM277.2 799.3 272.5 802.5 267.7 808.8 265.3 816.7 267.7 826.3 280.4 826.3 282.0 819.9 283.5 810.4 282.0 802.5ZM352.9 622.5 357.7 625.7 363.2 624.1 365.6 624.1 365.6 611.4 364.8 603.5 355.3 594.0 346.6 583.7 341.8 576.5 339.1 565.9 336.2 561.9 334.7 562.0 334.2 563.0 320.2 560.7 313.6 560.6 308.2 561.1 298.6 567.6 293.7 571.6 284.8 580.4 281.2 586.1 278.4 591.8 277.5 599.0 280.1 603.3 280.8 603.9 291.6 600.8 299.0 601.6 303.8 604.3 305.2 609.7 303.1 615.2 298.0 618.2 297.3 619.5 297.8 620.3 301.7 623.5 308.1 626.7 312.5 631.1 313.9 634.7 313.7 637.5 315.2 643.1 316.0 648.0 317.1 643.4 317.5 644.0 318.4 644.4 320.5 644.3 321.2 643.6 324.7 649.1 326.0 649.9 329.2 649.1 332.8 647.3 329.8 649.3 329.1 650.5 330.6 655.6 329.9 661.4 327.5 670.0 329.1 678.0 331.6 686.2 338.0 702.3 342.2 708.9 347.0 713.7 348.2 714.2 353.7 714.2 355.0 713.6 357.0 707.6 353.7 700.8 351.4 692.8 345.2 677.5 348.3 661.4 345.1 646.3 344.6 645.5 346.9 644.5 347.4 639.9 345.0 634.4 338.7 636.7 336.0 635.2 330.3 636.7 326.3 633.6 324.4 627.2 324.7 619.3 326.6 614.4 333.9 613.0 341.8 615.4 348.2 617.7ZM378.3 684.0 389.4 695.1 394.1 701.4 396.5 706.1 398.9 703.0 403.7 698.2 408.4 695.1 419.5 698.2 423.0 685.5 424.1 678.0 423.2 670.0 421.4 668.0 418.0 660.3 414.0 655.5 409.3 650.8 398.2 641.3 395.8 634.1 389.4 624.1 383.1 620.1 373.5 621.7 365.6 624.1 368.0 632.0 371.2 639.9 373.5 648.0 372.0 648.0 375.9 660.2 375.1 668.1 375.9 676.0Z"/>
<path fill="#FFB6C1" fill-rule="evenodd" d="M178.3 643.4 172.8 655.1 170.2 661.7 168.3 668.0 164.7 674.8 151.1 695.4 148.4 703.0 147.4 711.6 149.8 723.4 152.5 733.0 158.7 739.1 168.2 751.8 174.5 757.3 180.1 755.7 185.6 751.8 192.0 749.4 196.7 751.0 198.3 756.5 200.7 762.9 204.6 769.2 209.4 774.0 215.7 777.1 220.5 775.5 226.8 771.6 233.2 768.4 236.0 766.0 245.5 765.2 259.8 762.1 262.1 758.1 259.8 757.3 256.6 758.9 250.3 758.1 242.3 758.9 236.0 760.5 234.7 759.7 230.0 758.9 224.4 759.7 220.5 758.9 217.3 754.9 216.5 748.6 218.1 742.3 220.5 735.9 221.7 734.4 214.1 729.1 212.6 723.6 214.1 717.2 217.3 710.9 221.3 708.5 226.0 699.8 232.4 691.9 237.1 684.0 241.9 674.5 245.0 660.2 243.1 652.3 241.1 645.9 242.3 638.0 245.5 648.0 247.9 643.1 247.9 639.1 246.5 633.6 201.1 623.7 196.4 624.2 193.1 625.1 190.2 627.0 187.6 629.9 182.3 637.1 181.2 637.5 178.3 641.3ZM335.5 816.7 334.7 807.2 331.1 799.3 324.7 797.7 318.4 791.4 313.7 785.8 305.7 782.7 297.8 786.6 291.5 794.6 289.9 799.3 286.7 816.7 287.9 829.0 302.2 828.0 308.9 826.9 319.0 824.8 332.6 820.7ZM242.3 812.8 241.1 814.4 238.7 809.6 234.7 806.4 229.2 811.2 231.7 818.4 244.6 823.0 257.2 826.2 256.6 823.1 250.3 816.4ZM304.9 564.6 294.6 572.6 285.8 581.3 282.3 586.8 279.6 592.4 278.8 598.7 281.2 602.7 285.1 601.1 291.5 599.5 299.4 600.3 304.9 603.5 306.5 609.8 304.1 616.1 298.6 619.3 302.6 622.5 308.9 625.7 313.7 630.4 318.4 643.1 320.0 643.1 316.8 633.6 315.6 624.1 316.3 616.1 318.7 611.4 324.7 609.0 331.1 608.2 333.9 610.6 346.6 613.8 352.1 613.0 354.5 608.2 355.3 601.9 352.9 595.5 349.8 590.8 345.0 586.0 341.1 579.7 339.5 571.8 337.9 566.2 335.5 563.1 336.0 564.6 320.0 561.9 313.7 561.9 308.9 562.3ZM383.0 641.5 386.0 640.0 385.5 632.5 382.0 634.0ZM413.2 674.5 410.0 668.9 403.7 666.5 394.1 670.5 391.0 674.5 393.4 684.0 397.3 689.5 405.2 687.1 412.4 682.4ZM333.1 685.5 339.5 701.4 343.4 707.7 348.2 712.5 353.7 712.5 355.3 707.7 352.1 701.4 349.8 693.5 343.4 677.6 346.6 661.8 343.4 646.7 335.5 647.5 330.8 650.7 332.3 655.4 331.5 661.8 329.2 669.7 330.8 677.6Z"/>
<path fill="#FF1493" fill-rule="evenodd" d="M307.3 596.3 315.2 595.5 323.2 594.0 328.7 591.6 332.7 586.0 335.0 579.7 335.0 573.4 331.1 569.4 324.7 567.8 318.4 567.8 312.1 570.2 305.7 574.1 293.8 582.9 290.7 588.4 293.8 591.6 299.4 594.0ZM345.0 606.6 335.5 597.1 330.8 598.7 331.5 601.9 341.8 605.8ZM218.9 632.8 212.6 632.5 191.6 634.5 185.9 635.6 181.2 637.5 178.3 641.3 178.8 648.0 176.9 647.5 173.3 657.0 169.8 668.0 166.1 674.5 157.1 687.9 153.1 695.1 151.1 703.0 150.8 710.9 152.0 720.4 155.0 729.9 158.7 738.0 159.5 728.0 163.4 734.3 168.2 737.5 172.9 742.3 175.3 748.6 179.3 753.4 184.8 750.2 188.8 745.4 192.0 739.1 195.1 734.3 199.9 735.9 204.6 732.8 206.2 728.0 204.6 738.0 206.2 731.5 209.4 726.7 212.6 720.4 209.4 714.1 203.1 709.3 201.5 704.6 212.6 699.8 218.9 693.5 225.2 684.0 232.4 674.5 239.5 661.8 241.1 653.8 236.3 638.0 241.1 639.1 237.1 635.2ZM345.8 709.3 347.4 704.6 345.0 698.2 341.8 691.9 338.7 687.1 336.3 688.7 337.1 693.5 342.6 704.6ZM208.6 764.5 212.6 766.0 215.7 762.1 214.1 758.1 212.6 751.8 215.7 739.1 209.4 738.3 205.4 740.7 204.3 745.4 204.6 751.8 206.2 758.1ZM230.0 765.2 232.4 762.1 228.4 760.5 222.1 762.9 217.3 766.0 218.1 772.4 220.5 771.6ZM304.1 806.4 299.4 807.2 297.0 810.4 299.4 814.4 304.1 815.2 307.3 810.4Z"/>
<path fill="#FFA500" fill-rule="evenodd" d="M284.6 580.2 304.2 560.5 308.1 558.1 315.2 556.7 318.5 554.1 302.2 551.0 295.4 550.4 285.1 550.0 274.8 550.4 268.0 551.0 261.3 552.1 251.2 554.2 244.6 556.0 234.9 559.3 228.6 562.0 219.3 566.5 213.4 569.8 204.8 575.4 194.0 583.9 184.1 593.3 179.5 598.4 173.1 606.4 169.1 612.0 163.7 620.7 159.0 629.9 156.2 636.1 152.6 645.7 150.7 652.3 148.3 662.3 147.1 669.0 146.0 679.2 145.6 686.1 146.0 700.1 153.0 688.7 162.2 675.1 166.2 668.0 168.8 658.9 171.5 652.2 174.3 645.5 180.0 634.6 189.7 622.3 192.6 620.4 196.4 619.4 206.0 618.9 199.9 619.3 216.1 620.9 218.9 621.7 237.9 623.8 238.8 623.2 247.4 622.5 247.2 620.1 251.8 620.1 265.1 621.1 264.5 627.4 260.7 634.3 254.5 640.7 246.8 646.8 244.1 652.4 243.0 659.6 243.0 668.5 244.3 683.0 255.4 689.3 249.9 690.7 242.5 693.6 237.7 696.8 233.5 701.9 231.6 702.2 229.3 707.3 225.2 709.3 222.1 715.7 223.7 723.6 226.8 726.0 229.4 725.2 227.9 727.8 222.3 731.3 220.3 733.5 217.2 739.8 215.1 747.3 215.1 749.7 216.1 751.9 218.5 755.1 219.9 756.4 221.8 757.2 227.7 758.0 232.5 757.2 235.4 755.8 240.4 757.7 243.0 758.0 246.1 757.6 251.8 758.1 256.1 760.9 252.7 772.4 252.3 775.7 246.0 771.6 241.1 770.0 234.7 769.2 228.4 770.8 223.7 775.5 220.5 783.5 223.7 789.8 228.4 788.2 234.7 789.8 236.0 797.7 251.8 794.6 283.5 797.7 286.7 793.5 295.4 790.3 300.5 786.6 306.1 779.5 312.1 778.7 318.4 780.3 324.7 786.6 331.1 791.4 332.3 791.4 337.1 787.4 345.0 785.1 352.9 785.8 357.7 789.8 359.3 796.1 363.2 799.3 375.1 793.0 381.4 787.5 381.5 788.2 383.7 788.2 392.9 778.0 399.2 769.8 403.0 764.1 406.5 758.3 411.2 749.1 414.0 742.9 417.6 733.3 420.4 723.4 421.9 716.7 423.9 703.0 417.1 701.4 410.0 700.6 402.9 703.8 396.5 707.7 392.6 704.6 385.0 699.5 378.6 693.2 373.9 687.1 370.7 679.2 367.5 661.5 362.5 658.6 357.7 661.8 349.8 674.5 348.2 679.2 351.4 685.5 356.9 699.8 360.1 706.1 364.0 709.3 372.0 712.5 373.5 717.2 372.0 722.0 365.6 722.0 359.3 723.6 352.9 726.7 351.7 728.0 343.4 728.0 342.2 730.3 343.4 720.4 341.8 706.1 330.8 674.5 327.8 671.5 329.6 661.3 329.5 652.4 327.8 644.6 324.8 638.7 307.1 619.1 292.0 620.8 288.7 619.1 285.9 616.9 284.3 613.0 278.2 613.0 276.9 598.7 278.1 592.2ZM324.0 734.0 326.0 732.8 325.9 734.6 319.9 733.8 320.2 733.1ZM315.2 695.3 314.0 695.5 314.8 694.1 323.2 689.1 326.0 686.0 326.0 699.1 324.1 697.5ZM326.0 679.3 325.3 678.7 326.0 677.1ZM334.3 739.6 333.4 739.8 336.9 737.0 337.0 737.9ZM206.2 777.1 200.7 770.8 197.5 764.5 195.9 758.1 192.0 755.7 185.6 758.9 180.1 764.5 176.9 774.0 174.5 774.5 184.1 785.7 191.4 792.9 196.6 797.3 207.5 805.4 218.9 810.4 218.1 799.3 216.5 793.0 215.7 785.1 212.6 781.1ZM361.7 581.3 367.2 583.7 372.0 589.2 375.1 597.1 378.3 603.5 391.0 616.1 397.3 624.1 403.7 633.6 410.8 648.0 417.5 657.0 420.5 664.0 422.0 669.0 423.1 669.0 421.2 658.9 418.6 649.0 416.4 642.5 412.6 633.0 408.1 623.7 404.8 617.8 399.2 609.2 395.1 603.7 388.5 595.8 381.3 588.5 373.6 581.7 368.2 577.5 359.7 571.6 353.9 568.1 344.7 563.4 336.8 559.9 342.6 577.3 348.2 584.5 355.3 582.1Z"/>
<path fill="#FFE100" fill-rule="evenodd" d="M174.0 643.2 180.2 631.8 183.5 626.5 189.7 618.5 190.7 613.7 196.7 598.7 214.1 601.1 218.1 598.7 237.9 578.9 242.7 574.9 246.0 573.4 246.0 583.2 249.6 583.8 250.3 586.0 256.7 592.1 259.3 593.1 261.4 600.3 262.1 605.8 255.0 609.5 246.4 608.6 246.0 603.8 241.1 603.2 234.7 604.7 228.4 607.0 218.1 606.3 211.8 609.0 208.6 615.4 209.4 618.5 213.4 620.1 218.9 621.7 237.9 623.3 247.4 622.5 247.0 616.5 251.8 616.5 267.1 617.7 267.4 621.9 266.5 627.4 264.9 631.3 262.6 635.0 259.9 638.3 248.5 647.6 245.7 653.2 244.6 660.1 244.7 668.5 246.0 683.0 256.6 689.5 250.1 691.2 243.8 693.5 238.0 697.2 234.2 701.9 231.6 702.2 228.4 709.3 231.6 710.1 232.7 711.4 234.7 712.6 230.2 724.7 228.8 727.4 228.2 728.2 222.6 731.7 220.8 733.7 217.6 740.0 215.6 747.4 215.6 749.6 216.5 751.6 218.9 754.8 220.2 756.0 221.9 756.7 227.6 757.5 232.4 756.7 235.3 755.3 240.6 757.2 251.8 758.1 258.2 762.3 255.1 773.1 254.7 775.7 255.2 778.4 256.6 782.7 251.8 780.3 246.0 775.5 239.5 773.2 233.2 772.4 226.8 774.8 223.7 780.3 228.4 783.5 234.7 782.7 241.1 783.5 236.0 791.4 251.8 790.6 264.5 791.4 275.6 793.0 277.1 791.7 282.8 791.7 285.8 791.1 294.5 788.0 298.6 785.0 305.2 776.1 309.2 767.4 309.9 764.8 310.5 760.0 312.1 769.2 315.2 775.5 318.4 774.0 320.0 766.0 324.7 759.7 330.4 756.8 341.8 759.7 346.6 766.0 354.5 767.6 362.5 766.0 367.2 769.2 370.4 775.5 373.5 791.4 375.1 793.0 381.4 787.5 381.5 788.2 383.7 788.2 388.5 783.2 395.1 775.3 399.2 769.8 404.8 761.2 409.7 752.2 414.0 742.9 418.6 730.0 422.5 713.6 411.6 712.5 403.7 714.1 395.7 717.2 386.2 718.8 368.8 724.4 360.9 726.0 352.9 728.3 346.6 733.1 346.6 735.8 344.0 736.2 340.3 734.3 341.8 733.1 343.4 720.4 341.8 706.1 330.8 674.5 326.6 670.3 328.0 661.8 327.9 652.9 326.5 645.7 323.5 640.2 319.8 635.7 312.6 628.0 304.9 620.8 289.8 622.4 287.6 621.3 284.8 619.1 282.6 616.3 280.9 613.0 278.2 613.0 276.9 598.7 278.1 592.2 284.6 580.2 307.3 557.1 308.9 552.0 298.8 550.7 291.9 550.2 285.1 550.0 274.8 550.4 261.3 552.1 254.5 553.4 244.6 556.0 234.9 559.3 228.6 562.0 216.3 568.1 204.8 575.4 196.6 581.7 191.4 586.1 186.5 590.9 179.5 598.4 171.0 609.2 165.4 617.8 162.1 623.7 156.2 636.1 152.6 645.7 150.7 652.3 147.7 665.7 146.3 675.8 145.8 682.7 145.8 697.1 147.0 696.3 155.7 683.9 160.5 677.0 165.2 669.2 168.2 657.2 170.7 650.6ZM310.9 743.5 319.3 743.5 322.8 743.1 309.9 745.7 309.6 744.7ZM265.0 748.8 264.8 750.6 262.1 750.9ZM324.0 734.0 326.0 732.8 325.9 734.6 317.9 733.6 318.3 732.7ZM323.2 689.1 326.0 686.0 326.0 699.1 324.1 697.5 315.2 695.3 314.0 695.5 314.8 694.1ZM326.0 672.3 326.0 679.3 324.1 677.7ZM331.6 741.3 335.5 738.0 336.9 737.0 337.0 737.9ZM209.4 782.7 203.8 777.9 199.1 771.6 195.9 764.5 192.8 759.7 188.0 761.3 183.2 766.0 180.1 775.5 176.2 776.7 186.5 788.1 196.6 797.3 202.3 801.8 214.1 807.2 215.7 802.5 214.9 794.6 213.4 787.4ZM380.7 601.9 387.0 608.2 394.1 616.1 406.8 635.2 411.6 644.7 412.8 648.0 415.0 650.0 419.5 657.0 420.8 657.0 416.4 642.5 412.6 633.0 409.7 626.8 404.8 617.8 401.1 612.0 395.1 603.7 390.7 598.4 381.3 588.5 373.6 581.7 368.2 577.5 359.7 571.6 353.9 568.1 338.9 560.8 340.3 566.2 344.2 573.4 349.8 578.9 355.3 577.3 361.7 577.3 368.8 581.3 374.3 587.6 377.5 595.5ZM378.3 703.0 368.8 690.3 364.8 684.0 362.5 676.8 357.7 674.5 353.7 677.6 352.9 685.5 360.1 704.6 364.0 709.3 375.1 706.1Z"/>
<path fill="#DEB887" fill-rule="evenodd" d="M145.7 694.4 158.7 675.7 163.3 668.0 166.2 656.5 168.6 649.8 176.9 631.8 185.0 615.6 184.0 609.4 193.5 594.8 209.4 597.9 215.7 597.1 220.5 593.2 232.4 578.9 236.3 574.9 241.1 571.0 245.5 568.3 251.8 567.8 251.1 574.9 251.8 584.5 258.2 590.5 267.7 593.2 275.6 592.1 282.8 578.9 305.7 555.6 306.7 551.7 291.9 550.2 278.3 550.2 264.6 551.5 254.5 553.4 247.9 555.1 234.9 559.3 228.6 562.0 219.3 566.5 213.4 569.8 204.8 575.4 194.0 583.9 184.1 593.3 179.5 598.4 173.1 606.4 169.1 612.0 163.7 620.7 159.0 629.9 156.2 636.1 152.6 645.7 150.7 652.3 147.7 665.7 146.0 679.2ZM243.9 610.6 244.3 607.4 240.3 605.4 234.7 607.0 228.4 609.5 218.9 608.5 213.4 610.6 210.2 615.4 213.4 619.3 218.9 621.2 226.0 622.2 233.2 620.1 238.7 616.9 242.3 614.6ZM216.1 749.5 216.9 751.3 219.3 754.5 220.5 755.6 222.0 756.2 227.6 757.0 232.3 756.2 235.3 754.7 240.8 756.8 242.2 756.9 242.3 757.3 251.8 758.1 260.3 763.8 257.5 773.8 257.2 775.7 257.9 778.6 256.6 781.9 262.1 787.9 272.5 789.2 282.8 789.2 285.0 788.8 293.7 785.6 296.6 783.5 302.9 775.1 307.4 764.5 309.0 752.6 308.7 749.6 306.7 743.9 307.4 743.5 319.3 743.5 329.8 742.4 328.2 743.5 337.0 747.9 342.2 756.0 341.8 759.7 346.6 766.0 354.5 767.6 362.5 766.0 367.2 769.2 370.4 775.5 373.5 791.4 375.1 793.0 381.4 787.5 381.5 788.2 383.7 788.2 386.1 785.7 395.1 775.3 403.0 764.1 409.7 752.2 414.0 742.9 418.6 730.0 421.8 717.4 413.2 716.4 405.2 717.2 379.9 725.2 372.0 726.7 354.5 731.5 348.2 735.5 348.2 736.2 345.9 735.7 342.6 736.5 340.3 735.9 340.5 737.1 337.0 737.9 331.6 741.3 338.1 735.7 341.5 725.7 341.5 712.4 339.3 701.3 333.7 694.7 333.3 695.6 332.3 693.5 326.0 690.3 326.0 699.1 324.1 697.5 315.2 695.3 314.0 695.5 314.8 694.1 323.2 689.1 326.7 685.2 327.0 680.2 323.2 676.9 322.7 677.0 325.2 670.1 326.5 662.4 326.5 654.0 325.2 646.8 322.3 641.6 318.7 637.4 307.6 625.8 303.2 622.4 285.4 619.7 277.6 617.4 271.0 619.7 269.3 624.1 268.7 628.5 267.1 632.4 264.9 635.7 262.1 639.1 258.8 642.1 250.1 648.5 247.1 654.0 246.0 660.7 246.3 668.5 247.9 678.5 248.2 683.0 258.0 689.8 250.8 691.5 243.0 694.5 237.2 698.7 232.4 705.0 231.7 706.5 231.5 708.2 232.0 709.8 233.0 711.1 235.4 712.1 235.2 712.7 230.6 724.9 229.3 727.6 228.5 728.6 222.9 732.1 221.2 733.9 217.7 741.2 216.1 747.5ZM260.9 751.0 264.5 748.6 267.5 745.6 267.4 750.2ZM323.3 733.9 324.6 733.7 326.0 732.8 325.9 734.6 315.4 733.3 315.9 732.1ZM282.2 708.5 281.6 709.3 280.2 706.2ZM278.7 704.5 277.0 702.8 277.5 702.9ZM233.2 774.0 230.0 775.5 232.4 778.7 235.5 776.3ZM206.2 791.4 199.9 788.2 193.5 783.5 190.4 780.3 196.7 774.0 194.3 767.6 191.2 763.7 187.2 766.0 184.8 774.0 185.6 780.3 189.6 786.6 201.5 796.1 207.8 799.3 211.0 797.7ZM355.3 572.1 356.1 569.4 347.8 564.9 341.8 565.1 345.8 569.4 350.6 571.8ZM380.7 594.0 383.8 600.3 388.6 605.8 394.1 611.4 398.9 617.7 403.0 615.0 395.1 603.7 384.2 591.4ZM359.3 681.6 357.7 679.2 356.1 683.2 356.9 688.7 359.0 687.1Z"/>
<path fill="#F5E6BE" fill-rule="evenodd" d="M162.0 668.0 162.9 662.2 167.1 648.9 173.1 636.5 182.6 614.7 181.6 609.4 189.6 593.2 193.5 591.6 201.5 594.0 209.4 595.5 214.9 594.8 219.7 590.0 231.6 575.7 235.5 571.8 240.3 567.8 245.5 564.6 253.4 563.8 253.7 568.6 253.4 574.9 254.2 582.9 259.8 587.6 267.7 590.0 274.0 589.2 280.4 576.5 303.4 553.5 303.9 551.3 288.5 550.0 274.8 550.4 261.3 552.1 247.9 555.1 234.9 559.3 228.6 562.0 219.3 566.5 207.6 573.5 196.6 581.7 186.5 590.9 179.5 598.4 175.1 603.7 169.1 612.0 165.4 617.8 159.0 629.9 156.2 636.1 152.6 645.7 149.0 658.9 147.7 665.7 146.3 675.8 145.6 690.4 147.6 689.3 152.3 683.0ZM242.7 609.0 239.5 607.4 228.4 611.4 222.1 610.6 215.7 611.4 211.8 614.6 213.4 618.5 218.9 620.1 225.2 620.9 231.6 619.3 241.1 613.0ZM216.6 749.4 217.3 751.0 219.7 754.2 220.7 755.2 222.1 755.7 227.5 756.5 232.2 755.7 235.2 754.2 242.0 756.4 242.3 757.3 251.8 758.1 262.1 764.8 259.3 775.1 256.6 781.9 262.1 787.9 272.5 789.0 281.0 787.2 284.3 786.9 293.0 783.7 295.0 782.3 300.6 775.1 305.4 764.3 307.0 752.4 306.8 750.3 303.9 742.2 305.7 741.7 306.4 741.1 310.4 743.5 319.3 743.5 330.4 742.4 338.1 735.7 341.5 725.7 341.5 712.4 339.3 701.3 333.7 694.7 333.3 695.6 332.3 693.5 326.0 690.3 326.0 699.1 324.1 697.5 315.2 695.3 314.0 695.5 314.8 694.1 323.2 689.1 326.7 685.2 327.0 680.2 323.2 676.9 321.0 677.2 323.7 670.1 325.0 662.9 325.2 655.2 324.0 647.9 321.2 643.0 317.8 638.7 307.2 627.4 303.2 624.1 300.9 619.1 295.9 619.4 290.9 621.3 286.3 624.6 273.4 636.9 269.0 639.4 255.4 645.9 250.8 649.4 248.2 654.9 247.4 661.3 247.9 668.5 250.4 683.0 259.9 690.6 257.2 690.4 250.9 692.0 243.3 694.9 237.6 699.0 232.8 705.3 232.1 706.7 232.0 708.1 232.4 709.5 233.3 710.7 234.6 711.5 236.0 711.7 235.7 712.9 231.1 725.1 229.7 727.9 228.9 728.9 223.1 732.5 221.7 734.1 218.2 741.3 216.6 747.6ZM259.7 751.2 264.2 748.3 269.5 742.7 269.5 749.7 268.9 752.7 267.7 750.2ZM313.6 731.2 323.3 733.9 324.6 733.7 326.0 732.8 326.0 734.6 312.9 733.0ZM276.0 702.5 277.5 702.9 283.2 709.6 283.7 710.7 282.5 712.5 280.1 706.9ZM188.8 772.4 192.0 774.0 195.1 773.2 194.3 769.2 191.2 765.2 188.0 769.2ZM233.2 774.0 230.0 775.5 232.4 778.7 235.5 776.3ZM381.5 728.3 357.7 733.1 349.8 737.0 349.8 739.4 368.9 739.4 365.6 742.3 362.5 748.6 364.8 754.9 370.4 761.3 373.5 769.2 378.3 775.5 380.7 781.9 381.5 788.2 383.7 788.2 388.5 783.2 395.1 775.3 401.1 767.0 406.5 758.3 411.2 749.1 415.3 739.7 418.6 730.0 420.9 721.3 413.2 720.4 405.2 720.4 389.4 725.2Z"/>
<path fill="#94BE32" fill-rule="evenodd" d="M145.6 687.3 154.7 676.0 159.3 668.0 165.0 647.9 170.9 635.6 177.8 618.5 179.3 613.7 178.8 609.4 182.5 597.1 188.8 589.5 193.5 589.2 201.5 591.6 209.4 593.2 214.1 591.6 221.3 581.3 234.0 567.0 239.5 563.8 246.0 561.5 258.2 552.8 267.7 565.4 274.0 568.6 282.0 566.2 296.2 553.5 296.9 550.5 281.7 550.0 268.0 551.0 261.3 552.1 254.5 553.4 241.3 557.0 228.6 562.0 219.3 566.5 213.4 569.8 202.0 577.5 191.4 586.1 181.7 595.8 173.1 606.4 165.4 617.8 162.1 623.7 157.6 633.0 152.6 645.7 149.0 658.9 147.7 665.7 146.3 675.8ZM269.3 582.1 270.1 576.5 267.7 570.2 261.4 579.7 264.5 581.3ZM217.1 747.8 217.1 749.3 217.7 750.7 220.1 753.9 222.2 755.2 227.4 756.0 232.2 755.2 235.1 753.6 241.1 755.8 242.8 756.0 249.1 755.2 256.2 752.7 263.2 748.4 268.6 743.2 272.9 736.4 272.2 742.3 272.2 750.0 270.8 757.3 265.2 764.0 262.0 775.0 262.0 776.1 263.6 780.9 264.7 782.0 272.5 784.5 283.4 784.4 292.9 780.6 298.7 773.1 302.6 764.4 304.3 752.0 300.5 740.7 304.5 739.5 308.3 736.0 310.5 732.6 311.9 728.7 313.5 731.0 314.5 731.7 324.0 734.0 334.7 726.7 335.5 714.1 332.3 704.6 331.2 704.3 324.1 697.5 315.2 695.3 314.0 695.5 314.8 694.1 323.2 689.1 326.7 685.2 327.0 680.2 323.2 676.9 319.1 677.6 322.0 670.1 323.5 663.5 323.7 656.3 322.6 649.4 320.1 644.6 316.7 640.5 306.3 629.1 302.6 625.8 300.9 620.5 296.5 621.0 291.8 623.0 287.4 626.3 274.8 638.5 256.8 647.4 252.1 650.7 249.7 656.0 249.0 661.8 249.7 668.5 253.0 683.0 262.4 692.3 258.5 690.8 251.0 692.4 243.6 695.3 238.0 699.3 232.6 706.8 232.5 708.1 233.7 710.3 234.8 711.0 236.6 711.1 231.5 725.3 229.2 729.3 223.4 733.0 222.1 734.4 218.9 740.7ZM306.6 708.7 306.6 709.4 306.0 709.0ZM282.0 712.7 279.6 707.1 275.0 702.2 277.5 702.9 283.2 709.6 284.9 713.2 283.9 714.8 282.2 714.4ZM391.0 732.5 384.6 733.5 376.7 737.5 372.0 743.8 375.1 753.4 381.5 759.7 387.8 762.9 394.1 764.5 398.9 769.2 399.6 769.2 404.8 761.2 409.7 752.2 414.0 742.9 417.0 734.8 411.6 737.5 406.8 740.7 402.1 734.3 400.3 733.8 398.9 732.6 392.6 731.8Z"/>
<path fill="#BCEE68" fill-rule="evenodd" d="M262.1 553.5 267.7 557.5 275.6 559.1 282.0 555.9 284.3 552.4 283.9 550.0 278.3 550.2 261.5 552.0ZM216.5 574.1 218.1 576.5 222.1 575.7 228.4 572.6 231.6 568.6 228.4 567.0 222.1 569.4ZM155.5 668.1 158.7 660.2 161.1 652.3 157.4 666.0 162.3 647.9 165.0 641.3 167.9 635.6 172.1 624.2 175.5 613.7 174.5 609.4 172.0 607.8 167.2 614.9 162.1 623.7 157.6 633.0 154.9 639.3 151.6 649.0 149.0 658.9 147.1 669.0 146.2 676.8 147.6 676.8 151.5 673.7ZM217.5 749.2 218.1 750.4 221.3 754.3 226.2 755.5 232.1 754.7 235.1 753.0 241.3 755.4 242.7 755.5 249.1 754.7 256.6 751.9 263.5 747.6 268.7 742.3 272.7 735.7 274.1 742.0 274.0 750.2 272.5 758.1 266.9 764.5 263.7 775.5 265.3 780.3 272.5 782.7 282.8 782.7 291.5 779.5 297.0 772.4 301.0 763.7 302.6 751.8 297.5 738.3 299.4 738.6 303.2 737.4 306.2 734.6 308.4 731.2 309.8 727.4 310.4 723.2 314.8 730.2 323.7 732.4 328.2 729.4 329.2 729.9 334.7 726.7 335.5 714.1 332.3 704.6 328.1 703.5 323.7 699.1 314.8 696.9 313.3 697.9 313.2 696.9 314.8 694.1 323.2 689.1 326.7 685.2 327.0 680.2 323.2 676.9 317.3 677.9 320.4 670.1 321.8 664.0 322.3 657.4 321.3 650.7 318.9 646.1 312.3 638.3 301.9 627.2 300.9 621.9 297.0 622.4 292.6 624.4 288.1 627.6 275.6 639.8 271.2 642.4 257.6 648.8 253.4 652.2 251.2 657.2 250.7 662.4 251.3 668.5 255.4 683.0 263.9 693.4 259.4 691.5 257.5 691.3 250.8 693.0 244.5 695.4 238.4 699.6 233.1 706.9 233.3 709.1 234.0 710.0 236.0 710.7 237.3 710.4 236.6 713.2 232.0 725.5 229.6 729.7 223.6 733.4 222.6 734.6 219.2 741.5ZM281.5 712.9 278.5 706.4 273.4 701.7 277.5 702.9 283.2 709.6 285.9 715.4 281.7 714.2ZM290.4 710.5 290.8 710.5 290.4 710.8ZM302.6 708.0 301.1 709.4 300.5 709.2 301.0 709.1ZM309.1 700.7 309.1 700.7 310.1 698.5ZM304.2 710.8 306.0 709.1 308.2 707.7 308.2 712.4 309.1 717.0 307.8 714.5 305.7 711.7ZM381.5 743.1 378.3 746.2 380.7 750.2 387.8 751.0 395.7 749.4 398.1 743.8 395.7 739.9 389.4 740.7Z"/>
<path fill="#20B2AA" fill-rule="evenodd" d="M165.4 617.8 159.0 629.9 154.9 639.3 153.5 643.4 154.7 645.1 157.9 644.3 163.9 635.6 167.7 623.2 168.3 618.0ZM276.5 641.3 272.1 644.1 258.8 650.5 254.9 653.8 253.0 658.5 252.4 663.5 253.2 669.0 257.6 683.0 264.6 694.2 258.4 691.8 251.2 693.4 244.6 695.9 238.8 699.9 234.0 706.2 233.5 708.0 234.3 709.6 236.0 710.2 238.0 709.6 237.1 713.3 232.5 725.7 229.9 730.1 223.9 733.8 223.0 734.8 219.6 741.7 218.0 749.1 221.5 753.9 227.2 755.0 232.0 754.2 235.0 752.5 242.6 755.0 249.6 754.1 256.3 751.5 262.7 747.6 267.9 742.4 272.2 735.7 274.1 728.6 274.1 727.5 275.3 725.0 278.5 721.2 279.3 724.6 282.0 725.7 283.7 721.8 282.6 717.4 280.8 715.9 281.3 714.0 281.1 713.1 278.7 707.5 274.2 702.8 270.4 700.7 277.5 702.9 283.2 709.6 286.5 716.9 284.8 717.4 285.4 724.0 286.9 724.8 287.6 727.7 289.4 731.6 291.0 733.7 293.2 735.2 296.0 736.3 299.2 736.8 302.3 735.8 304.7 733.6 306.9 730.2 308.1 727.1 308.6 722.7 307.9 718.6 306.2 715.3 304.5 713.0 302.1 711.7 297.2 710.3 301.0 709.1 302.6 708.0 299.9 710.7 303.2 711.8 306.0 709.1 308.7 707.4 312.1 708.5 318.7 713.5 320.9 717.4 322.6 721.8 324.8 725.7 325.7 725.9 325.9 726.8 327.0 726.1 327.6 726.7 331.5 725.2 332.3 715.7 330.0 707.7 326.0 706.1 326.0 707.4 323.7 708.0 323.8 710.4 320.4 707.4 316.5 705.2 313.7 701.3 313.2 696.9 314.8 694.1 323.2 689.1 326.7 685.2 327.0 680.2 323.2 676.9 316.5 678.0 315.6 677.7 318.7 670.1 320.1 664.6 320.6 658.5 319.8 652.4 317.6 647.6 301.0 629.1 300.4 623.2 297.0 623.8 293.1 625.8 288.7 629.1ZM294.2 710.6 291.4 712.3 290.0 713.7 290.4 710.5ZM278.2 732.3 277.2 733.5 278.0 736.7 282.0 736.7 283.5 732.8 282.5 731.7 282.6 730.7 280.4 728.5 278.2 730.7ZM298.6 762.9 300.2 753.4 297.0 742.3 288.3 738.3 278.8 743.8 276.4 751.8 274.8 759.7 269.3 765.2 265.3 774.0 266.9 777.9 272.5 779.5 282.0 779.5 289.9 777.1 294.6 770.8Z"/>
<path fill="#B0E0E6" fill-rule="evenodd" d="M220.1 741.8 218.5 749.0 221.3 753.0 222.5 753.7 227.2 754.5 231.9 753.7 235.0 751.9 242.6 754.5 249.4 753.6 256.1 751.1 262.8 746.8 267.8 741.7 272.0 734.8 273.6 728.5 273.5 727.4 274.9 724.7 278.7 720.1 280.7 714.7 280.6 713.3 277.8 707.1 273.3 702.8 267.5 699.8 277.5 702.9 283.2 709.6 287.6 719.6 289.8 715.2 290.4 710.5 296.0 710.7 301.0 709.1 305.2 706.3 308.2 703.0 310.1 698.5 310.4 694.1 312.6 691.9 317.1 690.2 321.5 688.0 324.8 684.6 325.4 681.3 322.6 678.5 313.2 680.2 312.9 679.7 315.2 675.1 318.5 665.1 319.1 659.6 318.5 654.0 316.5 649.6 313.4 645.7 300.1 631.3 299.8 624.6 296.5 625.2 293.1 627.4 289.3 630.8 277.6 643.0 273.2 645.7 259.9 652.4 256.5 655.7 254.9 660.1 254.5 665.1 255.6 670.1 261.9 687.4 264.7 694.2 264.1 694.6 259.0 692.4 257.7 692.3 251.1 694.0 244.8 696.3 239.2 700.2 234.1 707.2 234.2 708.6 235.3 709.6 236.7 709.6 238.8 708.8 237.6 713.5 232.9 725.9 231.4 729.0 230.2 730.4 224.2 734.2 223.5 735.0ZM282.5 731.7 282.6 730.7 280.4 728.5 278.2 730.7 278.2 732.3 277.2 733.5 278.0 736.7 282.0 736.7 283.5 732.8ZM296.2 762.1 297.8 753.4 295.4 743.8 288.3 740.7 280.4 745.4 278.0 753.4 276.4 761.3 271.7 766.0 267.7 772.4 268.5 775.5 273.2 777.1 281.2 777.1 288.3 774.8 293.1 769.2ZM328.6 719.1 327.7 710.2 325.5 710.2 326.8 723.5ZM296.6 734.8 299.1 735.2 301.5 734.4 303.3 732.7 305.6 729.4 306.5 726.9 307.0 722.5 306.5 719.3 304.8 716.0 303.5 714.3 301.6 713.2 296.2 711.8 294.2 712.3 292.5 713.4 289.1 717.3 288.7 719.3 288.4 724.3 289.0 727.0 290.9 730.9 292.1 732.6Z"/>
<path fill="#7799EE" fill-rule="evenodd" d="M220.6 741.9 219.0 748.9 221.7 752.7 222.6 753.2 227.1 754.0 231.8 753.3 235.0 751.3 242.5 754.1 249.2 753.2 255.8 750.7 262.4 746.5 267.4 741.5 271.3 735.1 273.1 728.4 273.0 727.4 274.5 724.4 278.4 719.8 280.2 714.5 280.2 713.5 277.8 707.9 273.5 703.5 267.2 700.3 264.8 695.5 258.8 692.9 257.8 692.8 251.5 694.4 244.7 697.0 239.6 700.5 234.8 706.8 234.5 707.9 235.5 709.1 236.6 709.1 239.5 708.0 238.1 713.6 233.4 726.1 231.8 729.3 230.6 730.8 223.9 735.3ZM281.5 733.5 280.9 730.7 279.3 731.8 280.1 735.1ZM295.4 753.4 293.8 746.2 288.3 743.1 282.0 747.0 279.6 754.9 278.0 762.9 273.2 766.8 270.1 770.8 274.0 774.8 280.4 774.8 286.7 772.4 290.7 767.6 293.8 761.3ZM282.6 642.4 278.7 646.3 274.3 649.1 261.5 655.7 258.8 659.0 257.6 663.5 258.5 668.5 263.7 683.0 264.9 694.6 269.3 695.4 268.7 699.1 272.6 700.7 276.5 701.6 279.3 705.2 280.9 706.3 290.4 707.9 295.4 708.3 299.9 706.8 303.7 704.1 305.8 701.5 307.6 701.8 308.7 691.3 312.1 689.6 316.5 688.5 320.9 686.3 323.7 683.0 322.0 680.8 314.3 683.5 310.1 681.4 313.4 675.1 316.7 665.7 317.4 660.7 317.1 656.3 315.4 651.8 299.3 634.6 299.2 628.0 295.9 628.5 292.6 630.8 285.9 638.0ZM297.2 733.3 299.0 733.6 300.7 733.0 302.0 731.8 304.2 728.5 304.9 726.7 305.4 722.3 305.0 720.0 302.4 715.5 301.1 714.7 296.3 713.4 294.9 713.7 293.6 714.5 290.6 718.0 290.0 724.4 290.4 726.3 293.2 731.4Z"/>
<path fill="#4169E1" fill-rule="evenodd" d="M280.9 702.1 281.0 703.5 294.3 705.7 298.2 704.6 301.5 702.4 302.9 701.0 307.6 701.8 306.5 683.0 311.5 674.6 313.7 669.6 314.8 665.1 315.4 660.7 314.3 656.8 312.1 653.5 305.4 647.9 295.4 638.0 295.9 633.5 293.1 634.6 290.4 636.9 287.6 640.2 284.8 644.6 281.5 648.5 277.6 651.8 273.2 654.6 264.3 659.0 262.1 661.8 261.5 666.3 262.6 670.7 264.3 675.1 268.2 683.0 264.9 694.6 274.8 696.3 277.6 699.6ZM221.1 742.0 219.5 748.8 222.7 752.8 227.0 753.6 231.7 752.8 235.1 750.6 235.6 751.1 242.5 753.6 249.0 752.7 255.5 750.2 262.1 746.1 267.0 741.2 270.9 734.9 272.6 728.2 272.4 727.4 274.1 724.1 278.0 719.5 279.7 714.4 277.3 708.1 272.9 703.7 266.9 700.6 264.4 695.9 258.6 693.3 251.6 694.9 245.0 697.4 240.0 700.8 235.2 707.1 235.1 708.2 236.0 708.7 240.3 707.1 238.5 713.8 233.8 726.3 232.2 729.5 230.9 731.2 224.3 735.5ZM292.3 754.9 291.5 748.6 288.3 745.4 283.5 748.6 281.2 754.9 280.4 762.9 282.0 768.4 286.7 766.8 290.7 761.3ZM316.5 683.0 314.3 685.2 317.1 688.0 320.9 686.3 322.6 683.5 320.4 681.9ZM294.9 730.9 298.9 732.2 300.0 731.8 300.9 731.0 303.5 726.6 304.0 722.1 303.8 720.7 301.5 716.5 296.3 714.8 294.6 715.5 292.4 717.8 291.7 719.5 291.4 724.5 291.7 725.7 293.6 729.6Z"/>
<path fill="#0000CD" fill-rule="evenodd" d="M221.6 742.0 220.0 748.7 222.8 752.3 226.9 753.1 231.7 752.3 236.3 749.2 237.9 750.3 236.0 749.7 235.5 750.0 235.7 750.6 242.4 753.1 248.9 752.2 255.3 749.8 261.7 745.8 266.5 740.9 270.5 734.6 272.1 728.1 271.8 727.5 273.7 723.9 277.6 719.1 279.3 714.2 276.9 708.3 272.7 704.1 266.5 701.0 264.1 696.3 258.4 693.8 251.7 695.4 245.2 697.8 240.4 701.1 235.5 707.6 235.7 708.1 236.2 708.2 243.1 705.4 240.6 707.6 239.0 713.9 234.3 726.5 232.7 729.8 231.2 731.6 224.8 735.7ZM289.1 751.8 284.3 751.8 286.7 756.5ZM284.3 651.8 280.9 655.2 276.5 658.5 272.1 660.7 268.7 662.9 267.6 666.3 269.8 675.1 272.1 679.6 273.2 683.0 264.9 694.6 277.5 696.8 279.8 699.4 284.8 698.3 288.7 701.3 292.1 703.0 295.4 702.4 299.1 700.4 307.6 701.8 303.2 683.0 304.3 681.8 309.8 672.9 312.1 668.5 313.2 664.0 312.6 659.6 310.4 657.4 304.3 653.5 301.0 650.7 294.3 644.6 297.6 645.2 294.3 643.0 291.5 642.4 288.7 645.2ZM295.0 729.4 298.2 730.8 298.8 730.9 299.8 730.3 302.2 726.4 302.8 722.0 300.6 717.5 296.4 716.1 295.6 716.5 293.3 718.7 293.0 719.5 292.9 725.2Z"/>
<path fill="#9370DB" fill-rule="evenodd" d="M289.3 676.2 290.9 669.6 290.4 665.1 287.6 665.1 285.4 668.5 285.2 675.1 287.0 678.5ZM220.5 748.6 222.9 751.8 226.8 752.6 231.6 751.8 236.3 748.6 241.1 751.8 236.0 750.2 242.3 752.6 248.7 751.8 255.0 749.4 261.4 745.4 266.1 740.7 268.8 736.4 270.1 729.9 273.2 723.6 277.2 718.8 278.8 714.1 276.4 708.5 272.5 704.6 266.1 701.4 263.7 696.6 258.2 694.3 251.8 695.8 245.5 698.2 240.8 701.4 236.0 707.7 246.0 703.8 241.1 707.7 239.5 714.1 234.7 726.7 233.1 730.1 231.6 732.0 225.2 735.9 222.1 742.3ZM298.7 729.6 300.9 726.3 301.5 721.8 299.8 718.5 296.5 717.4 294.3 719.6 294.0 724.6 295.9 728.5ZM270.1 734.3 271.7 728.0 269.2 735.7Z"/>
<path fill="#FF4500" fill-rule="evenodd" d="M237.9 592.4 241.1 594.8 246.0 594.8 250.3 593.2 256.6 597.1 259.8 600.3 258.2 594.0 255.0 587.6 248.7 584.5 246.0 583.7 241.1 585.2 237.1 587.6Z"/>
<path fill="#FFA500" fill-rule="evenodd" d="M236.0 601.9 242.3 603.5 248.7 606.6 255.0 608.2 259.8 605.1 255.0 598.7 248.7 594.0 242.3 592.4 236.0 594.0Z"/>
<path fill="#FFA500" fill-rule="evenodd" d="M273.2 612.2 278.8 613.3 283.5 611.4 283.5 605.8 277.2 603.8 271.7 605.1Z"/>
<path fill="#B22222" fill-rule="evenodd" d="M283.5 609.8 285.9 614.6 291.5 617.7 299.4 617.7 304.1 614.6 305.7 608.2 302.6 602.7 296.2 600.6 288.3 601.1 283.5 603.5Z"/>
<path fill="#FF4500" fill-rule="evenodd" d="M287.0 610.6 291.5 612.7 297.8 612.2 300.2 608.2 297.8 604.3 291.5 603.5 286.4 605.8Z"/>
<path fill="#FFA500" fill-rule="evenodd" d="M289.6 609.5 293.1 610.8 297.0 609.8 297.0 607.0 293.1 605.4 289.1 607.0Z"/>
<path fill="#FF4500" fill-rule="evenodd" d="M324.7 622.5 326.3 630.4 329.5 635.2 332.3 634.4 338.7 636.0 345.0 633.6 349.8 634.4 357.7 636.7 365.6 630.4 364.0 624.9 357.7 626.4 352.9 623.3 348.2 618.5 337.4 614.6 331.1 613.0 324.7 614.6Z"/>
<path fill="#FFA500" fill-rule="evenodd" d="M326.8 624.1 328.4 630.4 332.3 634.4 337.1 632.0 339.5 625.7 337.9 620.1 333.1 616.9 328.4 619.3Z"/>
<path fill="#FF4500" fill-rule="evenodd" d="M236.8 679.2 239.2 688.7 245.5 690.3 251.8 685.5 253.4 676.0 251.8 668.1 245.5 664.1 238.4 665.7Z"/>
<path fill="#FFA500" fill-rule="evenodd" d="M241.5 680.8 243.9 685.5 248.7 684.0 250.3 677.6 247.1 672.9 242.3 674.5Z"/>
<path fill="#B22222" fill-rule="evenodd" d="M209.4 705.4 213.4 706.1 216.5 703.8 214.1 701.4 209.4 703.0Z"/>
<path fill="#FF4500" fill-rule="evenodd" d="M236.0 771.1 245.5 770.8 258.2 769.5 265.3 766.0 267.7 759.7 265.3 755.7 256.6 754.9 236.0 755.7Z"/>
<path fill="#B22222" fill-rule="evenodd" d="M236.0 768.4 245.5 767.6 259.8 765.2 264.5 762.1 265.8 758.1 261.4 756.2 236.0 757.3Z"/>
<path fill="#FFB6C1" fill-rule="evenodd" d="M236.0 766.0 245.5 765.2 259.8 762.1 262.1 758.1 259.8 757.3 256.6 758.9 250.3 758.1 242.3 758.9 236.0 760.5Z"/>
<path fill="#FFA500" fill-rule="evenodd" d="M314.4 761.3 316.8 769.2 320.0 777.1 324.7 783.5 331.1 786.6 337.4 788.2 337.4 747.8 329.5 748.6 321.6 750.2 315.2 754.9Z"/>
<path fill="#FFA500" fill-rule="evenodd" d="M346.6 732.8 352.9 735.1 360.9 734.3 368.8 732.0 373.5 728.0 343.4 728.0Z"/>
<path fill="#FFA500" fill-rule="evenodd" d="M326.0 791.4 332.3 789.8 341.8 788.2 349.8 794.6 357.7 804.1 363.2 799.3 364.0 793.0 362.5 785.1 359.3 777.1 352.9 772.4 345.0 769.2 332.3 759.7 326.0 758.1Z"/>
<path fill="#FF4500" fill-rule="evenodd" d="M335.5 807.2 341.8 813.6 349.8 808.8 356.1 802.5 359.3 796.1 357.7 789.8 352.9 785.8 345.0 785.1 337.1 787.4 332.3 791.4Z"/>
<path fill="#B22222" fill-rule="evenodd" d="M335.9 819.4 346.6 805.7 350.6 797.7 349.8 792.2 340.3 793.8 332.3 794.6 326.0 796.1 326.0 822.9Z"/>
<path fill="#FFB6C1" fill-rule="evenodd" d="M334.7 807.2 332.3 802.5 326.0 800.1 326.0 822.9 335.5 819.6Z"/>
<use href="#coast" x="285.1" y="689.5"/>
<circle cx="285.1" cy="689.5" r="6.9" fill="#fff"/>
</g>
<circle cx="285.1" cy="689.5" r="138.0" fill="none" stroke="#000" stroke-width="1"/>
<g fill="#000">
<text x="285.2" y="19.0" font-family="'Liberation Sans', sans-serif" font-size="25.60" text-anchor="middle" font-weight="bold" textLength="47.0" lengthAdjust="spacingAndGlyphs">JJA</text>
<text x="54.3" y="43.4" font-family="'Liberation Sans', sans-serif" font-size="15.20" text-anchor="start" font-weight="bold" textLength="170.2" lengthAdjust="spacingAndGlyphs">b01.01ibis (yrs 975-999)</text>
<text x="354.8" y="43.4" font-family="'Liberation Sans', sans-serif" font-size="15.20" text-anchor="start" font-weight="bold" textLength="153.2" lengthAdjust="spacingAndGlyphs">b30.004 (yrs 975-999)</text>
<text x="0.9" y="86.0" font-family="'Liberation Sans', sans-serif" font-size="13.40" text-anchor="start" font-weight="bold" textLength="136.7" lengthAdjust="spacingAndGlyphs">Surf downwelling SW</text>
<text x="192.8" y="88.2" font-family="'Liberation Sans', sans-serif" font-size="13.30" text-anchor="start" font-weight="bold" textLength="84.9" lengthAdjust="spacingAndGlyphs">W/m~S~2~N~</text>
<text x="291.9" y="86.0" font-family="'Liberation Sans', sans-serif" font-size="13.40" text-anchor="start" font-weight="bold" textLength="136.7" lengthAdjust="spacingAndGlyphs">Surf downwelling SW</text>
<text x="483.8" y="88.2" font-family="'Liberation Sans', sans-serif" font-size="13.30" text-anchor="start" font-weight="bold" textLength="84.9" lengthAdjust="spacingAndGlyphs">W/m~S~2~N~</text>
<text x="213.7" y="491.4" font-family="'Liberation Sans', sans-serif" font-size="15.20" text-anchor="start" font-weight="bold" textLength="144.1" lengthAdjust="spacingAndGlyphs">b01.01ibis - b30.004</text>
<text x="145.7" y="532.3" font-family="'Liberation Sans', sans-serif" font-size="13.40" text-anchor="start" font-weight="bold" textLength="136.7" lengthAdjust="spacingAndGlyphs">Surf downwelling SW</text>
<text x="339.6" y="534.3" font-family="'Liberation Sans', sans-serif" font-size="13.30" text-anchor="start" font-weight="bold" textLength="84.9" lengthAdjust="spacingAndGlyphs">W/m~S~2~N~</text>
<text x="1.1" y="411.2" font-family="'Liberation Serif', serif" font-size="12.60" text-anchor="start" textLength="41.6" lengthAdjust="spacingAndGlyphs">MEAN=</text>
<text x="51.8" y="411.2" font-family="'Liberation Serif', serif" font-size="12.60" text-anchor="start" textLength="40.1" lengthAdjust="spacingAndGlyphs">177.70</text>
<text x="105.6" y="411.2" font-family="'Liberation Serif', serif" font-size="12.60" text-anchor="start" textLength="30.4" lengthAdjust="spacingAndGlyphs">Min=</text>
<text x="150.3" y="411.2" font-family="'Liberation Serif', serif" font-size="12.60" text-anchor="start" textLength="33.5" lengthAdjust="spacingAndGlyphs">94.77</text>
<text x="197.2" y="411.2" font-family="'Liberation Serif', serif" font-size="12.60" text-anchor="start" textLength="33.0" lengthAdjust="spacingAndGlyphs">Max=</text>
<text x="237.8" y="411.2" font-family="'Liberation Serif', serif" font-size="12.60" text-anchor="start" textLength="41.1" lengthAdjust="spacingAndGlyphs">278.89</text>
<text x="292.1" y="411.2" font-family="'Liberation Serif', serif" font-size="12.60" text-anchor="start" textLength="41.6" lengthAdjust="spacingAndGlyphs">MEAN=</text>
<text x="342.8" y="411.2" font-family="'Liberation Serif', serif" font-size="12.60" text-anchor="start" textLength="40.1" lengthAdjust="spacingAndGlyphs">163.00</text>
<text x="396.6" y="411.2" font-family="'Liberation Serif', serif" font-size="12.60" text-anchor="start" textLength="30.4" lengthAdjust="spacingAndGlyphs">Min=</text>
<text x="441.3" y="411.2" font-family="'Liberation Serif', serif" font-size="12.60" text-anchor="start" textLength="33.5" lengthAdjust="spacingAndGlyphs">72.80</text>
<text x="488.2" y="411.2" font-family="'Liberation Serif', serif" font-size="12.60" text-anchor="start" textLength="33.0" lengthAdjust="spacingAndGlyphs">Max=</text>
<text x="528.8" y="411.2" font-family="'Liberation Serif', serif" font-size="12.60" text-anchor="start" textLength="41.1" lengthAdjust="spacingAndGlyphs">265.35</text>
<text x="439.9" y="578.4" font-family="'Liberation Serif', serif" font-size="12.60" text-anchor="start" textLength="21.8" lengthAdjust="spacingAndGlyphs">MIN</text>
<text x="469.0" y="578.4" font-family="'Liberation Serif', serif" font-size="12.60" text-anchor="start" textLength="8.6" lengthAdjust="spacingAndGlyphs">=</text>
<text x="485.5" y="578.4" font-family="'Liberation Serif', serif" font-size="12.60" text-anchor="start" textLength="49.5" lengthAdjust="spacingAndGlyphs">−125.19</text>
<text x="542.6" y="578.4" font-family="'Liberation Serif', serif" font-size="12.60" text-anchor="start" textLength="23.1" lengthAdjust="spacingAndGlyphs">MAX</text>
<text x="573.6" y="578.4" font-family="'Liberation Serif', serif" font-size="12.60" text-anchor="start" textLength="8.6" lengthAdjust="spacingAndGlyphs">=</text>
<text x="591.0" y="578.4" font-family="'Liberation Serif', serif" font-size="12.60" text-anchor="start" textLength="40.5" lengthAdjust="spacingAndGlyphs">102.66</text>
</g>
<g stroke="#111" stroke-width="0.55"><rect x="5.10" y="420.50" width="16.78" height="14.10" fill="#9370DB"/><rect x="21.88" y="420.50" width="16.78" height="14.10" fill="#0000CD"/><rect x="38.66" y="420.50" width="16.78" height="14.10" fill="#4169E1"/><rect x="55.44" y="420.50" width="16.78" height="14.10" fill="#7799EE"/><rect x="72.22" y="420.50" width="16.78" height="14.10" fill="#B0E0E6"/><rect x="89.01" y="420.50" width="16.78" height="14.10" fill="#20B2AA"/><rect x="105.79" y="420.50" width="16.78" height="14.10" fill="#BCEE68"/><rect x="122.57" y="420.50" width="16.78" height="14.10" fill="#94BE32"/><rect x="139.35" y="420.50" width="16.78" height="14.10" fill="#F5E6BE"/><rect x="156.13" y="420.50" width="16.78" height="14.10" fill="#DEB887"/><rect x="172.91" y="420.50" width="16.78" height="14.10" fill="#FFE100"/><rect x="189.69" y="420.50" width="16.78" height="14.10" fill="#FFA500"/><rect x="206.47" y="420.50" width="16.78" height="14.10" fill="#FF4500"/><rect x="223.26" y="420.50" width="16.78" height="14.10" fill="#B22222"/><rect x="240.04" y="420.50" width="16.78" height="14.10" fill="#FFB6C1"/><rect x="256.82" y="420.50" width="16.78" height="14.10" fill="#FF1493"/></g>
<g stroke="#111" stroke-width="0.55"><rect x="296.10" y="420.50" width="16.78" height="14.10" fill="#9370DB"/><rect x="312.88" y="420.50" width="16.78" height="14.10" fill="#0000CD"/><rect x="329.66" y="420.50" width="16.78" height="14.10" fill="#4169E1"/><rect x="346.44" y="420.50" width="16.78" height="14.10" fill="#7799EE"/><rect x="363.23" y="420.50" width="16.78" height="14.10" fill="#B0E0E6"/><rect x="380.01" y="420.50" width="16.78" height="14.10" fill="#20B2AA"/><rect x="396.79" y="420.50" width="16.78" height="14.10" fill="#BCEE68"/><rect x="413.57" y="420.50" width="16.78" height="14.10" fill="#94BE32"/><rect x="430.35" y="420.50" width="16.78" height="14.10" fill="#F5E6BE"/><rect x="447.13" y="420.50" width="16.78" height="14.10" fill="#DEB887"/><rect x="463.91" y="420.50" width="16.78" height="14.10" fill="#FFE100"/><rect x="480.69" y="420.50" width="16.78" height="14.10" fill="#FFA500"/><rect x="497.48" y="420.50" width="16.78" height="14.10" fill="#FF4500"/><rect x="514.26" y="420.50" width="16.78" height="14.10" fill="#B22222"/><rect x="531.04" y="420.50" width="16.78" height="14.10" fill="#FFB6C1"/><rect x="547.82" y="420.50" width="16.78" height="14.10" fill="#FF1493"/></g>
<g stroke="#111" stroke-width="0.55"><rect x="505.50" y="602.20" width="34.10" height="13.89" fill="#FF1493"/><rect x="505.50" y="616.09" width="34.10" height="13.89" fill="#FFB6C1"/><rect x="505.50" y="629.98" width="34.10" height="13.89" fill="#B22222"/><rect x="505.50" y="643.86" width="34.10" height="13.89" fill="#FF4500"/><rect x="505.50" y="657.75" width="34.10" height="13.89" fill="#FFA500"/><rect x="505.50" y="671.64" width="34.10" height="13.89" fill="#FFE100"/><rect x="505.50" y="685.52" width="34.10" height="13.89" fill="#DEB887"/><rect x="505.50" y="699.41" width="34.10" height="13.89" fill="#F5E6BE"/><rect x="505.50" y="713.30" width="34.10" height="13.89" fill="#94BE32"/><rect x="505.50" y="727.19" width="34.10" height="13.89" fill="#BCEE68"/><rect x="505.50" y="741.08" width="34.10" height="13.89" fill="#20B2AA"/><rect x="505.50" y="754.96" width="34.10" height="13.89" fill="#B0E0E6"/><rect x="505.50" y="768.85" width="34.10" height="13.89" fill="#7799EE"/><rect x="505.50" y="782.74" width="34.10" height="13.89" fill="#4169E1"/><rect x="505.50" y="796.62" width="34.10" height="13.89" fill="#0000CD"/><rect x="505.50" y="810.51" width="34.10" height="13.89" fill="#9370DB"/></g>
<g fill="#000">
<text x="21.9" y="449.6" font-family="'Liberation Sans', sans-serif" font-size="11.80" text-anchor="middle">0</text>
<text x="55.4" y="449.6" font-family="'Liberation Sans', sans-serif" font-size="11.80" text-anchor="middle">50</text>
<text x="89.0" y="449.6" font-family="'Liberation Sans', sans-serif" font-size="11.80" text-anchor="middle">100</text>
<text x="122.6" y="449.6" font-family="'Liberation Sans', sans-serif" font-size="11.80" text-anchor="middle">150</text>
<text x="156.1" y="449.6" font-family="'Liberation Sans', sans-serif" font-size="11.80" text-anchor="middle">200</text>
<text x="189.7" y="449.6" font-family="'Liberation Sans', sans-serif" font-size="11.80" text-anchor="middle">250</text>
<text x="223.3" y="449.6" font-family="'Liberation Sans', sans-serif" font-size="11.80" text-anchor="middle">300</text>
<text x="256.8" y="449.6" font-family="'Liberation Sans', sans-serif" font-size="11.80" text-anchor="middle">350</text>
<text x="312.9" y="449.6" font-family="'Liberation Sans', sans-serif" font-size="11.80" text-anchor="middle">0</text>
<text x="346.4" y="449.6" font-family="'Liberation Sans', sans-serif" font-size="11.80" text-anchor="middle">50</text>
<text x="380.0" y="449.6" font-family="'Liberation Sans', sans-serif" font-size="11.80" text-anchor="middle">100</text>
<text x="413.6" y="449.6" font-family="'Liberation Sans', sans-serif" font-size="11.80" text-anchor="middle">150</text>
<text x="447.1" y="449.6" font-family="'Liberation Sans', sans-serif" font-size="11.80" text-anchor="middle">200</text>
<text x="480.7" y="449.6" font-family="'Liberation Sans', sans-serif" font-size="11.80" text-anchor="middle">250</text>
<text x="514.3" y="449.6" font-family="'Liberation Sans', sans-serif" font-size="11.80" text-anchor="middle">300</text>
<text x="547.8" y="449.6" font-family="'Liberation Sans', sans-serif" font-size="11.80" text-anchor="middle">350</text>
<text x="555.0" y="620.3" font-family="'Liberation Sans', sans-serif" font-size="11.80" text-anchor="middle">40</text>
<text x="555.0" y="634.2" font-family="'Liberation Sans', sans-serif" font-size="11.80" text-anchor="middle">30</text>
<text x="555.0" y="648.1" font-family="'Liberation Sans', sans-serif" font-size="11.80" text-anchor="middle">25</text>
<text x="555.0" y="662.0" font-family="'Liberation Sans', sans-serif" font-size="11.80" text-anchor="middle">20</text>
<text x="555.0" y="675.8" font-family="'Liberation Sans', sans-serif" font-size="11.80" text-anchor="middle">15</text>
<text x="555.0" y="689.7" font-family="'Liberation Sans', sans-serif" font-size="11.80" text-anchor="middle">10</text>
<text x="555.0" y="703.6" font-family="'Liberation Sans', sans-serif" font-size="11.80" text-anchor="middle">5</text>
<text x="555.0" y="717.5" font-family="'Liberation Sans', sans-serif" font-size="11.80" text-anchor="middle">0</text>
<text x="555.0" y="731.4" font-family="'Liberation Sans', sans-serif" font-size="11.80" text-anchor="middle">−5</text>
<text x="555.0" y="745.3" font-family="'Liberation Sans', sans-serif" font-size="11.80" text-anchor="middle">−10</text>
<text x="555.0" y="759.2" font-family="'Liberation Sans', sans-serif" font-size="11.80" text-anchor="middle">−15</text>
<text x="555.0" y="773.1" font-family="'Liberation Sans', sans-serif" font-size="11.80" text-anchor="middle">−20</text>
<text x="555.0" y="786.9" font-family="'Liberation Sans', sans-serif" font-size="11.80" text-anchor="middle">−25</text>
<text x="555.0" y="800.8" font-family="'Liberation Sans', sans-serif" font-size="11.80" text-anchor="middle">−30</text>
<text x="555.0" y="814.7" font-family="'Liberation Sans', sans-serif" font-size="11.80" text-anchor="middle">−40</text>
</g>
</svg></body></html>
